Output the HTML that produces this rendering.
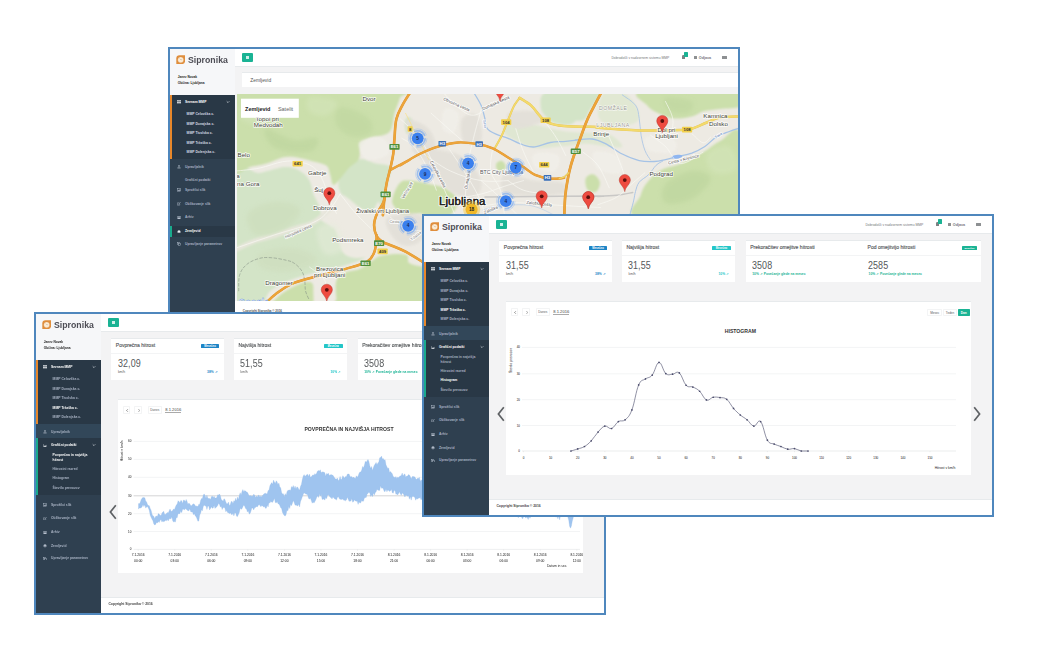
<!DOCTYPE html>
<html><head><meta charset="utf-8"><title>Sipronika</title>
<style>
html,body{margin:0;padding:0}
body{width:1040px;height:666px;background:#fff;position:relative;overflow:hidden;font-family:"Liberation Sans",sans-serif;color:#676a6c}
.fr{position:absolute;width:568px;border:2px solid #4f87bd;background:#f3f3f4;overflow:hidden}
.fr *{position:absolute;box-sizing:border-box;white-space:nowrap}
.fr svg *{position:static}
/* sidebar */
.side{left:0;top:0;width:65.2px;bottom:0;background:#2f4050}
.head{left:0;top:0;width:65.2px;height:45.8px;background:#f6f7f9}
.logo{left:17.9px;top:4.7px;font-size:9.8px;font-weight:bold;color:#4e4e56;transform:scaleX(0.893);transform-origin:0 0}
.usr{left:7.8px;font-size:3.2px;color:#222;font-weight:bold}
.sec{left:0;width:65.2px;background:#293846}
.bar{left:0;width:1.7px}
.mi{left:15px;font-size:3.35px;font-weight:bold;color:#a7b1c2;line-height:4px}
.mi.w{color:#fff}
.si{left:15.6px;font-size:3.4px;font-weight:bold;color:#a7b1c2;line-height:4px}
.si.w{color:#fff}
.ic{left:8.6px;width:3.3px;height:2.7px;background:#95a0b2;border-radius:0.6px}
.ic.w{background:#e6eaf0}
.car{left:56.4px;width:4px;height:4px}
/* top bar */
.top{left:65.2px;top:0;right:0;height:17.7px;background:#fff;border-bottom:0.4px solid #e7eaec}
.btn{left:71.9px;top:4.2px;width:11px;height:8.6px;background:#1ab394;border-radius:1px}
.btn i{left:4.2px;width:2.6px;height:0.45px;background:rgba(255,255,255,.8)}
.tr{font-size:3.38px;color:#75787a;top:7.2px}
.foot{left:65.2px;right:0;bottom:0;height:16px;background:#fff;border-top:0.4px solid #e7eaec}
.foot span{left:7.2px;top:3.8px;font-size:3.4px;font-weight:bold;color:#444}
/* cards */
.card{top:24px;height:42.4px;background:#fff;border-top:0.4px solid #e7eaec}
.card .t{left:4.6px;top:3px;font-size:5.05px;color:#55585a;-webkit-text-stroke:0.14px #55585a}
.card .ln{left:0;right:0;top:13.6px;height:0.4px;background:#f3f4f5}
.card .n{left:6.6px;top:19px;font-size:10.4px;color:#55585a;transform:scaleX(0.86);transform-origin:0 0;letter-spacing:0.1px}
.card .u{left:6.7px;top:31.3px;font-size:3.3px;color:#555}
.card .u.cg{color:#1ab394}
.card .p{top:30.8px;font-size:3.3px;font-weight:bold}
.lb{top:4.5px;width:18.2px;height:4.6px;border-radius:0.6px;font-size:2.7px;color:#fff;font-weight:bold;text-align:center;line-height:6.2px;overflow:hidden}
.blue{background:#1c84c6}.cy{background:#23c6c8}.gr{background:#1ab394}
.cb{color:#1c84c6}.cc{color:#23c6c8}.cg{color:#1ab394}
/* chart panel */
.panel{left:82.4px;top:85.2px;width:464.8px;height:173.5px;background:#fff;border-top:0.6px solid #e7eaec}
.tb{top:7px;height:7.2px;border:0.3px solid #f3f4f5;border-radius:0.8px;background:#fff;font-size:3.1px;color:#5a5d5f;text-align:center;line-height:6.6px}
.ttl{margin-top:0.5px;font-size:5.1px;font-weight:bold;color:#333;text-align:center;letter-spacing:0.02px}
.arrow{font-size:0}
</style></head><body style="filter:blur(0.35px)">
<div class="fr" style="left:168px;top:47px;height:300px">
<div class="side"></div><div class="head"></div>
<svg style="left:5.8px;top:6px;width:9.4px;height:9.4px" viewBox="0 0 94 94"><path d="M36 3H91V58A33 33 0 0 1 58 91H3V36A33 33 0 0 1 36 3Z" fill="#e08e3c"/><circle cx="47" cy="48" r="29" fill="#fdecd4"/><circle cx="47" cy="48" r="30" fill="none" stroke="#c98646" stroke-width="3" stroke-opacity="0.7"/><path d="M40 40L50 50L58 46" stroke="#b8a896" stroke-width="5" fill="none" stroke-linecap="round"/></svg><div class="logo">Sipronika</div>
<div class="usr" style="top:25.80px;">Janez Novak</div>
<div class="usr" style="top:31.70px;">Občina: Ljubljana</div>
<div class="sec" style="top:45.8px;height:64px"></div>
<div class="bar" style="top:45.8px;height:64px;background:#e8872a"></div>
<svg style="left:7.1px;top:51.30px;width:4px;height:3.5px" viewBox="0 0 8 7" fill="#f2f4f8"><rect x="0.4" y="0.2" width="3.1" height="2.9"/><rect x="4.5" y="0.2" width="3.1" height="2.9"/><rect x="0.4" y="3.9" width="3.1" height="2.9"/><rect x="4.5" y="3.9" width="3.1" height="2.9"/></svg>
<div class="mi w" style="top:50.90px;">Seznam MMP</div>
<svg class="car" style="top:50.6px" viewBox="0 0 4 4"><path d="M0.7 1.3L2 2.6L3.3 1.3" fill="none" stroke="#e8ecf2" stroke-width="0.6"/></svg>
<div class="si" style="left:16.60px;top:63.00px;color:#d3d9e3;">MMP Celovška c.</div>
<div class="si" style="left:16.60px;top:72.60px;color:#d3d9e3;">MMP Dunajska c.</div>
<div class="si" style="left:16.60px;top:82.10px;color:#d3d9e3;">MMP Tivolska c.</div>
<div class="si" style="left:16.60px;top:91.70px;color:#d3d9e3;">MMP Tržaška c.</div>
<div class="si" style="left:16.60px;top:101.30px;color:#d3d9e3;">MMP Dolenjska c.</div>
<svg style="left:7.1px;top:116.40px;width:4px;height:3.5px" viewBox="0 0 8 7" fill="#b7c0ce"><rect x="2.6" y="0.3" width="2.8" height="2.6" rx="0.6"/><path d="M4 2.8V5" stroke="#b7c0ce" stroke-width="0.9"/><path d="M0.8 5.9H7.2" stroke="#b7c0ce" stroke-width="1.5"/></svg>
<div class="mi" style="top:116.00px;">Upravljalnik</div>
<div class="mi" style="top:129.00px;">Grafični podatki</div>
<div class="sec" style="top:177px;height:10.6px"></div>
<div class="bar" style="top:177px;height:10.6px;background:#19aa8d"></div>
<svg style="left:7.1px;top:139.30px;width:4px;height:3.5px" viewBox="0 0 8 7" fill="#b7c0ce"><rect x="0.5" y="0.9" width="7" height="5.4" fill="none" stroke="#b7c0ce" stroke-width="0.9"/><path d="M1.3 5.6L3 3.4L4.2 4.5L5.5 2.4L6.8 5.6Z"/></svg>
<div class="mi" style="top:139.00px;">Sprožilci slik</div>
<svg style="left:7.1px;top:153.10px;width:4px;height:3.5px" viewBox="0 0 8 7" fill="#b7c0ce"><path d="M4.6 1.6H0.7V6.4H5.4V3.8" fill="none" stroke="#b7c0ce" stroke-width="0.9"/><path d="M3 4.4L7.2 0.6" stroke="#b7c0ce" stroke-width="1.3"/></svg>
<div class="mi" style="top:152.80px;">Oblikovanje slik</div>
<svg style="left:7.1px;top:166.60px;width:4px;height:3.5px" viewBox="0 0 8 7" fill="#b7c0ce"><rect x="0.4" y="0.8" width="7.2" height="2"/><rect x="0.9" y="3.4" width="6.2" height="3"/></svg>
<div class="mi" style="top:166.30px;">Arhiv</div>
<svg style="left:7.1px;top:180.50px;width:4px;height:3.5px" viewBox="0 0 8 7" fill="#f2f4f8"><circle cx="4" cy="3.5" r="3.1"/><path d="M1.2 4.3Q4 6 6.8 4.3" fill="none" stroke="#2f4050" stroke-width="0.8"/></svg>
<div class="mi w" style="top:180.20px;">Zemljevid</div>
<svg style="left:7.1px;top:193.00px;width:4px;height:3.5px" viewBox="0 0 8 7" fill="#b7c0ce"><rect x="0.6" y="0.5" width="4.2" height="4.2" fill="none" stroke="#b7c0ce" stroke-width="0.9"/><rect x="2.9" y="2.4" width="4.4" height="4.1" fill="#2f4050" stroke="#b7c0ce" stroke-width="0.9"/></svg>
<div class="mi" style="top:192.70px;">Upravljanje parametrov</div>
<div class="top"></div>
<div class="btn"><i style="top:2.9px"></i><i style="top:4.05px"></i><i style="top:5.2px"></i></div>
<div class="tr" style="left:441.40px;top:6.50px;">Dobrodošli v nadzornem sistemu MMP</div>
<div style="left:511.6px;top:6.4px;width:3.2px;height:4px;background:#7e8183;border-radius:1.2px 1.2px 0.3px 0.3px"></div>
<div style="left:513.6px;top:3.4px;width:4.6px;height:4.4px;background:#1ab394;border-radius:0.6px"></div>
<div style="left:524px;top:7.3px;width:2.8px;height:2.6px;background:#8d9092;border-radius:0.3px"></div>
<div class="tr" style="left:528.80px;top:7.00px;color:#74777a;font-weight:bold;font-size:3.7px;">Odjava</div>
<div style="left:552.4px;top:7.2px;width:4.2px;height:3px;background:#8d9092;border-radius:0.3px"></div>
<div style="left:72.4px;top:23.4px;width:500px;height:15px;background:#fff;border-top:0.4px solid #e7eaec"></div>
<div style="left:80.2px;top:29.2px;font-size:4.9px;color:#555">Zemljevid</div>
<div id="map" style="left:66.6px;top:44.8px;width:501.4px;height:207.6px;background:#edeae3;overflow:hidden"><svg style="left:0;top:0;width:501.4px;height:207.6px" viewBox="0 0 501.4 207.6" font-family="Liberation Sans, sans-serif">
<defs><filter id="b1" x="-5%" y="-5%" width="110%" height="110%"><feGaussianBlur stdDeviation="0.9"/></filter><filter id="b2" x="-10%" y="-10%" width="120%" height="120%"><feGaussianBlur stdDeviation="2.2"/></filter></defs>
<rect width="501.4" height="207.6" fill="#edeae3"/>
<g filter="url(#b1)">
<path d="M-8.3 80.8C-2.8 56.2 12.4 80.3 22.5 78.9C32.5 77.5 40.2 73.5 47.5 73.1C54.7 72.8 58.4 74.5 62.9 77.0C67.4 79.4 70.1 82.4 72.5 86.6C74.9 90.7 74.6 95.5 76.3 100.0C78.1 104.5 80.7 107.4 82.1 111.6C83.5 115.7 84.0 120.7 84.0 123.1C84.0 125.5 79.3 123.0 82.1 125.0C84.9 127.1 93.5 133.3 99.4 134.7C105.3 136.0 108.9 133.4 114.8 132.7C120.7 132.0 128.6 129.1 132.1 130.8C135.6 132.5 134.0 137.2 134.0 142.4C134.0 147.5 135.6 154.8 132.1 159.7C128.6 164.5 123.1 166.2 114.8 169.3C106.5 172.4 96.3 174.2 85.9 177.0C75.6 179.7 66.4 181.2 57.1 184.7C47.7 188.1 40.2 191.4 34.0 196.2C27.8 201.0 30.1 208.1 22.5 211.6C14.9 215.0 -2.8 239.0 -8.3 215.4C-13.8 191.9 -13.8 105.4 -8.3 80.8Z" fill="#d3e4c7" />
<path d="M107.1 77.0C110.9 72.5 116.9 66.8 122.5 65.4C128.0 64.0 132.3 67.9 137.9 69.3C143.4 70.7 150.8 70.0 153.2 73.1C155.7 76.2 152.4 81.0 151.3 86.6C150.3 92.1 148.5 97.7 147.5 103.9C146.4 110.1 146.6 120.5 145.6 121.2C144.5 121.9 143.8 108.1 141.7 107.7C139.6 107.4 137.5 117.5 134.0 119.3C130.6 121.0 125.9 119.4 122.5 117.4C119.0 115.3 117.6 110.2 114.8 107.7C112.0 105.3 109.5 107.0 107.1 103.9C104.7 100.8 101.3 95.3 101.3 90.4C101.3 85.6 103.3 81.5 107.1 77.0Z" fill="#d3e4c7" />
<path d="M84.0 103.9C86.4 99.7 96.3 98.3 103.2 100.0C110.2 101.8 116.2 109.0 122.5 113.5C128.7 118.0 134.7 117.8 137.9 125.0C141.0 132.3 141.9 147.0 139.8 153.9C137.7 160.8 132.2 162.5 126.3 163.5C120.4 164.5 111.9 164.2 107.1 159.7C102.2 155.2 102.5 145.1 99.4 138.5C96.3 131.9 92.6 129.4 89.8 123.1C87.0 116.9 81.6 108.0 84.0 103.9Z" fill="#edeae2" />
<path d="M-2.5 156.2C1.3 154.5 11.4 149.2 18.6 146.6C25.9 144.0 30.9 143.7 37.9 141.6C44.8 139.4 50.2 137.0 57.1 134.7C64.0 132.3 69.9 132.0 76.3 128.5C82.7 125.0 89.7 117.8 92.7 115.4" fill="none" stroke="#e7e6db" stroke-width="4.60" stroke-linecap="round" stroke-linejoin="round" />
<path d="M-8.3 -5.7C22.5 -20.2 132.1 -7.5 162.9 -5.7C193.7 -4.0 163.8 -0.6 162.9 3.9C161.9 8.4 159.0 13.7 157.5 19.3C156.0 24.8 156.2 30.8 154.4 34.7C152.6 38.5 151.5 39.1 147.5 40.8C143.5 42.5 136.3 41.9 132.1 44.3C127.9 46.6 125.9 50.1 124.0 53.9C122.1 57.7 123.7 62.0 121.7 65.4C119.7 68.9 115.9 70.0 112.9 73.1C109.8 76.2 107.7 79.6 104.8 82.7C101.8 85.9 98.6 91.2 96.5 90.8C94.4 90.5 94.5 84.3 93.2 80.8C92.0 77.4 92.4 74.0 89.4 71.6C86.4 69.2 81.1 68.7 76.3 67.4C71.5 66.0 67.0 64.7 62.9 63.9C58.7 63.1 56.7 62.7 53.2 62.7C49.8 62.7 47.8 62.7 43.6 63.9C39.5 65.1 35.4 67.8 30.2 69.3C25.0 70.8 21.7 71.4 14.8 72.4C7.9 73.3 -4.1 88.7 -8.3 74.7C-12.4 60.6 -39.1 8.7 -8.3 -5.7Z" fill="#cbdfab" />
<path d="M99.4 186.6C100.8 182.1 102.9 181.0 107.1 178.9C111.2 176.8 117.6 177.1 122.5 175.0C127.3 173.0 129.9 170.2 134.0 167.7C138.2 165.3 139.3 162.8 145.6 161.6C151.8 160.3 163.8 159.4 168.6 160.8C173.5 162.2 169.0 167.1 172.5 169.3C175.9 171.5 180.9 171.7 187.9 173.1C194.8 174.5 206.8 168.7 210.9 177.0C215.1 185.3 230.3 211.7 210.9 219.3C191.6 226.9 123.3 222.0 103.2 219.3C83.2 216.5 100.1 209.8 99.4 203.9C98.7 198.0 98.0 191.1 99.4 186.6Z" fill="#cbdfab" />
<path d="M30.2 219.3C24.6 216.5 34.9 208.7 39.8 203.9C44.6 199.0 51.2 195.2 57.1 192.4C63.0 189.5 69.0 187.4 72.5 188.1C75.9 188.8 76.7 190.6 76.3 196.2C76.0 201.8 78.9 215.1 70.6 219.3C62.2 223.4 35.7 222.0 30.2 219.3Z" fill="#cbdfab" />
<path d="M155.6 103.9C156.5 99.6 159.8 92.0 162.9 88.9C165.9 85.8 167.3 86.4 172.5 86.6C177.7 86.8 184.8 88.5 191.7 90.0C198.6 91.6 205.7 92.2 210.9 95.4C216.1 98.6 220.2 103.1 220.6 107.7C220.9 112.4 218.1 117.6 212.9 121.2C207.7 124.8 196.9 128.1 191.7 127.7C186.5 127.4 188.2 120.3 184.0 119.3C179.9 118.3 173.4 123.3 168.6 122.2C163.9 121.0 159.8 116.0 157.5 112.7C155.1 109.5 154.6 108.2 155.6 103.9Z" fill="#cbdfab" />
<path d="M309.6 -1.9C317.2 -4.6 339.9 -4.6 346.1 -1.9C352.3 0.9 345.9 8.0 344.2 13.5C342.4 19.0 340.6 26.0 336.5 28.9C332.3 31.8 325.6 30.5 321.1 29.9C316.6 29.2 314.6 28.0 311.5 25.0C308.4 22.1 304.1 18.4 303.8 13.5C303.4 8.7 301.9 0.9 309.6 -1.9Z" fill="#d3e4c7" />
<path d="M321.5 -1.9C328.6 -5.6 355.2 -5.0 360.9 -1.9C366.7 1.1 356.1 9.9 353.4 15.0C350.7 20.0 350.0 24.5 345.9 26.2C341.9 27.9 335.3 25.7 330.9 24.4C326.5 23.0 323.2 23.5 321.5 18.7C319.8 14.0 314.4 1.8 321.5 -1.9Z" fill="#d3e4c7" />
<path d="M367.5 -1.9C371.9 -5.6 379.8 -4.3 385.3 -1.9C390.9 0.4 395.6 6.1 398.5 11.2C401.3 16.3 403.7 22.5 401.3 26.2C398.9 29.9 391.2 31.2 385.3 31.9C379.4 32.5 372.8 32.3 368.4 30.0C364.1 27.6 361.1 24.5 360.9 18.7C360.8 13.0 363.1 1.8 367.5 -1.9Z" fill="#e1e8d3" />
<path d="M271.1 27.0C276.6 25.6 287.6 28.9 298.0 30.8C308.4 32.7 317.0 36.2 328.8 37.5C340.6 38.9 360.3 38.7 363.4 38.5C366.5 38.3 344.3 36.2 345.9 36.6C347.5 36.9 365.1 37.4 372.2 40.3C379.3 43.2 385.7 50.3 385.3 52.5C385.0 54.7 376.7 53.0 370.3 52.5C363.9 52.0 357.2 49.8 349.7 49.7C342.2 49.6 338.1 51.2 328.8 52.0C319.5 52.7 307.0 54.9 298.0 53.9C289.0 52.9 284.3 49.0 278.8 46.2C273.2 43.4 268.6 42.0 267.2 38.5C265.9 35.0 265.6 28.4 271.1 27.0Z" fill="#dfe7d2" />
<path d="M406.0 -2.9C389.2 -0.3 407.4 7.3 410.1 11.2C412.8 15.2 416.3 16.7 421.0 19.1C425.7 21.5 429.9 23.7 436.0 24.4C442.1 25.0 449.3 23.8 454.8 22.5C460.3 21.2 461.4 18.6 466.4 17.2C471.5 15.9 476.2 15.9 482.9 15.0C489.6 14.0 499.9 15.2 503.6 12.0C507.3 8.8 521.1 -0.2 503.6 -2.9C486.0 -5.5 422.8 -5.4 406.0 -2.9Z" fill="#cbdfab" />
<path d="M401.9 123.8C383.9 119.8 402.0 108.0 403.7 101.3C405.5 94.6 407.8 91.3 411.6 86.7C415.4 82.1 419.0 78.8 424.8 75.8C430.5 72.7 436.1 72.9 443.5 69.8C451.0 66.7 458.9 62.6 466.0 58.5C473.1 54.5 476.2 50.5 482.9 47.3C489.7 44.0 499.9 26.7 503.6 40.5C507.3 54.3 521.9 108.8 503.6 123.8C485.3 138.8 419.8 127.9 401.9 123.8Z" fill="#cbdfab" />
<path d="M348.7 84.4C349.8 81.6 353.7 79.6 356.2 80.3C358.8 81.0 362.3 85.1 362.8 88.2C363.3 91.3 361.3 96.2 359.1 97.6C356.9 98.9 352.5 98.0 350.6 95.7C348.8 93.3 347.7 87.2 348.7 84.4Z" fill="#cbdfab" />
<path d="M259.6 69.3C260.5 67.8 263.7 66.3 265.3 67.0C267.0 67.7 269.0 71.2 268.8 73.1C268.6 75.1 266.0 77.3 264.4 77.7C262.8 78.2 260.8 77.0 259.9 75.4C259.1 73.9 258.6 70.8 259.6 69.3Z" fill="#cbdfab" />
<path d="M168.8 25.0C169.8 22.6 173.4 22.8 174.6 25.0C175.7 27.3 175.9 35.1 174.9 37.5C174.0 40.0 170.3 40.8 169.2 38.5C168.1 36.3 167.8 27.5 168.8 25.0Z" fill="#d3e4c7" />
</g>
<g filter="url(#b2)" opacity="0.5">
<path d="M28.2 34.7C31.7 33.3 47.7 44.5 57.1 46.2C66.4 47.9 77.4 42.2 80.2 44.3C82.9 46.4 80.1 56.0 72.5 57.7C64.9 59.5 45.8 58.0 37.9 53.9C29.9 49.7 24.8 36.0 28.2 34.7Z" fill="#b9d29a" />
<path d="M103.2 13.5C108.8 12.1 124.6 18.6 130.2 23.1C135.7 27.6 136.8 35.0 134.0 38.5C131.2 42.0 121.0 43.7 114.8 42.4C108.6 41.0 101.5 36.0 99.4 30.8C97.3 25.6 97.7 14.9 103.2 13.5Z" fill="#bcd49c" />
<path d="M10.9 7.7C17.2 7.7 36.5 19.0 37.9 23.1C39.2 27.3 24.9 30.8 18.6 30.8C12.4 30.8 4.6 27.3 3.2 23.1C1.9 19.0 4.7 7.7 10.9 7.7Z" fill="#d6e6bd" />
<path d="M72.5 3.9C77.3 2.2 96.3 4.6 99.4 7.7C102.5 10.9 94.6 19.5 89.8 21.2C84.9 22.9 75.6 20.5 72.5 17.4C69.4 14.2 67.6 5.6 72.5 3.9Z" fill="#d6e6bd" />
<path d="M10.9 119.3C14.4 113.4 28.5 108.4 37.9 107.7C47.2 107.0 61.1 110.6 62.9 115.4C64.6 120.3 55.4 130.2 47.5 134.7C39.5 139.2 25.2 143.2 18.6 140.4C12.1 137.7 7.5 125.2 10.9 119.3Z" fill="#cbdbb8" />
<path d="M22.5 159.7C28.0 155.9 46.7 152.9 57.1 153.9C67.5 154.9 80.2 161.3 80.2 165.4C80.2 169.6 66.8 175.2 57.1 177.0C47.4 178.7 32.6 178.2 26.3 175.0C20.1 171.9 16.9 163.5 22.5 159.7Z" fill="#cddcbb" />
<path d="M80.2 134.7C82.2 129.5 94.6 127.4 99.4 130.8C104.2 134.3 109.2 148.7 107.1 153.9C105.0 159.1 92.7 163.1 87.9 159.7C83.0 156.2 78.1 139.9 80.2 134.7Z" fill="#e6ecdc" />
<path d="M428.5 90.0C433.2 84.3 446.7 77.9 454.8 76.9C462.9 75.9 473.6 79.3 473.6 84.4C473.6 89.5 462.9 100.7 454.8 105.1C446.7 109.5 433.2 111.5 428.5 108.8C423.8 106.1 423.8 95.8 428.5 90.0Z" fill="#b9d29a" />
<path d="M469.8 60.0C472.5 55.3 486.9 49.8 492.3 52.5C497.7 55.2 502.5 70.3 499.8 75.0C497.1 79.8 482.7 81.5 477.3 78.8C471.9 76.1 467.1 64.7 469.8 60.0Z" fill="#d6e6bd" />
<path d="M428.5 3.7C432.6 2.0 450.7 4.8 454.8 7.5C458.8 10.2 455.1 17.0 451.0 18.7C447.0 20.4 436.3 19.5 432.3 16.8C428.2 14.1 424.5 5.4 428.5 3.7Z" fill="#bcd49c" />
</g>
<g filter="url(#b1)" opacity="0.9">
<path d="M174.9 53.9C176.7 50.8 192.5 54.1 201.9 55.8C211.2 57.5 219.2 58.0 226.9 63.5C234.5 69.0 242.4 79.3 244.2 86.6C245.9 93.9 242.4 102.2 236.5 103.9C230.6 105.6 219.4 101.7 211.5 96.2C203.5 90.7 198.8 80.7 192.2 73.1C185.7 65.5 173.2 57.0 174.9 53.9Z" fill="#e3e0d9" />
<path d="M224.9 25.0C227.4 20.2 236.9 17.4 240.3 21.2C243.8 25.0 246.6 41.4 244.2 46.2C241.7 51.0 230.3 51.9 226.9 48.1C223.4 44.3 222.5 29.9 224.9 25.0Z" fill="#e3e0d9" />
<path d="M271.1 19.3C274.6 16.2 291.8 16.0 298.0 17.4C304.2 18.7 309.2 23.9 305.7 27.0C302.2 30.1 285.0 36.0 278.8 34.7C272.6 33.3 267.6 22.4 271.1 19.3Z" fill="#e3e0d9" />
<path d="M267.2 80.8C272.1 78.4 287.6 85.2 298.0 86.6C308.4 88.0 320.1 86.1 324.9 88.5C329.8 90.9 334.6 98.0 324.9 100.0C315.2 102.1 281.5 103.5 271.1 100.0C260.7 96.6 262.4 83.2 267.2 80.8Z" fill="#e3e0d9" />
<path d="M168.6 27.0C170.7 22.8 186.2 28.8 191.7 34.7C197.2 40.5 201.5 55.5 199.4 59.7C197.3 63.8 185.7 63.6 180.2 57.7C174.6 51.9 166.6 31.1 168.6 27.0Z" fill="#e3e0d9" />
<path d="M149.4 125.0C153.2 119.9 177.8 117.4 184.0 121.2C190.2 125.0 187.8 141.0 184.0 146.2C180.2 151.4 169.1 153.9 162.9 150.0C156.6 146.2 145.6 130.2 149.4 125.0Z" fill="#e3e0d9" />
<path d="M207.6 15.4C210.4 12.7 219.4 15.1 221.1 19.3C222.8 23.4 220.0 35.7 217.2 38.5C214.5 41.3 207.4 38.8 205.7 34.7C204.0 30.5 204.9 18.2 207.6 15.4Z" fill="#f1efe9" />
<path d="M298.0 59.7C302.2 57.6 317.6 58.5 321.1 61.6C324.6 64.7 321.4 74.9 317.2 77.0C313.1 79.0 301.5 76.2 298.0 73.1C294.6 70.0 293.9 61.7 298.0 59.7Z" fill="#f1efe9" />
<path d="M357.2 58.1C360.6 55.8 375.0 58.2 379.7 61.9C384.4 65.6 386.8 76.4 383.5 78.8C380.1 81.1 365.7 78.7 360.9 75.0C356.2 71.3 353.8 60.5 357.2 58.1Z" fill="#f1efe9" />
<path d="M409.7 43.1C414.1 41.1 431.3 42.3 436.0 45.0C440.7 47.7 440.4 56.1 436.0 58.1C431.6 60.2 416.3 59.0 411.6 56.3C406.9 53.6 405.3 45.1 409.7 43.1Z" fill="#f1efe9" />
<path d="M122.5 48.1C125.2 44.3 140.4 42.2 145.6 44.3C150.7 46.4 154.1 55.9 151.3 59.7C148.6 63.5 135.4 67.5 130.2 65.4C125.0 63.4 119.7 51.9 122.5 48.1Z" fill="#f1efe9" />
</g>
<path d="M248.0 103.1C257.0 103.0 277.2 102.6 298.0 102.4C318.8 102.1 352.1 102.0 363.4 102.0C374.7 102.0 358.0 102.6 360.9 102.4C363.9 102.3 373.5 102.0 379.7 101.3C386.0 100.6 392.8 99.0 395.7 98.5" fill="none" stroke="#c9c8c6" stroke-width="1.50" stroke-linecap="round" stroke-linejoin="round" />
<path d="M236.5 -1.9C237.9 0.5 242.1 6.7 244.2 11.6C246.2 16.4 246.9 20.9 248.0 25.0C249.1 29.2 248.2 31.9 250.3 34.7C252.4 37.4 255.8 38.7 259.6 40.4C263.3 42.2 266.2 42.4 271.1 44.3C275.9 46.2 281.6 49.5 286.5 51.0C291.3 52.6 293.2 53.4 298.0 52.9C302.9 52.5 307.9 49.5 313.4 48.5C318.9 47.5 322.9 47.9 328.8 47.4C334.7 46.8 344.4 45.7 346.1 45.4C347.8 45.2 336.8 46.0 338.4 45.9C340.1 45.9 349.9 44.3 355.3 45.0C360.7 45.7 363.0 47.0 368.4 49.7C373.9 52.4 379.3 57.0 385.3 60.0C391.4 63.1 396.5 65.2 402.2 66.6C408.0 67.9 412.5 67.7 417.2 67.5C422.0 67.4 424.5 66.5 428.5 65.6C432.6 64.8 435.0 64.0 439.8 62.8C444.5 61.6 449.7 60.9 454.8 59.1C459.8 57.2 463.5 55.4 467.9 52.5C472.3 49.6 474.8 45.8 479.2 43.1C483.6 40.4 487.9 39.2 492.3 37.5C496.7 35.8 501.6 34.4 503.6 33.7" fill="none" stroke="#a6c3e6" stroke-width="1.30" stroke-linecap="round" stroke-linejoin="round" />
<path d="M435.3 62.3C436.1 61.6 438.9 60.8 440.7 60.8C442.5 60.7 445.3 61.2 445.4 61.9C445.5 62.6 443.0 64.0 441.3 64.5C439.6 65.0 437.1 64.9 436.0 64.5C434.9 64.1 434.4 62.9 435.3 62.3Z" fill="#8fb6f0" />
<path d="M385.3 0.9C387.7 2.8 395.4 7.0 398.5 11.2C401.5 15.4 401.2 18.9 402.2 24.4C403.2 29.8 403.1 35.5 404.1 41.2C405.1 47.0 406.2 51.8 407.9 56.3C409.5 60.7 412.5 64.3 413.5 66.0" fill="none" stroke="#a6c3e6" stroke-width="0.80" stroke-linecap="round" stroke-linejoin="round" />
<path d="M392.1 123.8C392.9 120.8 395.4 111.7 396.6 106.9C397.7 102.2 397.5 100.9 398.5 97.6C399.5 94.2 399.9 91.2 402.2 88.2C404.6 85.1 408.6 83.7 411.6 80.7C414.7 77.6 416.6 73.7 419.1 71.3C421.7 68.8 424.5 67.9 425.7 67.1" fill="none" stroke="#a6c3e6" stroke-width="0.90" stroke-linecap="round" stroke-linejoin="round" />
<path d="M246.1 115.8C249.2 115.1 256.1 112.9 263.4 112.0C270.7 111.1 279.6 110.5 286.5 110.8C293.4 111.2 296.3 112.0 301.9 113.9C307.4 115.8 314.5 119.9 317.2 121.2" fill="none" stroke="#a6c3e6" stroke-width="0.50" stroke-linecap="round" stroke-linejoin="round" />
<path d="M1.7 196.8C1.9 194.0 1.2 185.8 2.6 181.1C4.0 176.4 6.1 173.7 9.5 170.7C12.9 167.7 17.3 165.9 21.7 164.6C26.1 163.3 28.9 163.4 33.9 163.7C38.9 164.0 45.2 165.3 49.4 166.3C53.6 167.3 54.3 167.3 57.1 169.2C59.9 171.1 62.9 173.9 64.8 177.0C66.7 180.1 67.0 183.0 67.7 186.6C68.4 190.2 67.8 193.7 68.6 197.2C69.4 200.7 71.7 204.6 72.4 206.2" fill="none" stroke="#879287" stroke-width="0.60" stroke-linecap="round" stroke-linejoin="round" stroke-dasharray="2.6 2.2" stroke-linecap="butt"/>
<path d="M-0.6 77.0C3.6 76.5 14.2 75.7 22.5 74.1C30.8 72.4 38.6 68.9 45.6 67.7C52.5 66.6 55.4 66.8 60.9 67.7C66.5 68.7 71.8 69.7 76.3 73.1C80.8 76.5 83.2 81.0 85.9 86.6C88.7 92.1 89.3 98.0 91.7 103.9C94.1 109.8 98.0 116.5 99.4 119.3" fill="none" stroke="#fbfaf6" stroke-width="0.70" stroke-linecap="round" stroke-linejoin="round" stroke-opacity="0.9"/>
<path d="M-0.6 153.9C6.3 151.5 24.0 145.4 37.9 140.8C51.7 136.2 66.5 133.1 76.3 128.5C86.2 123.9 87.8 120.6 92.7 115.4C97.5 110.3 101.3 102.8 103.2 100.0" fill="none" stroke="#fbfaf6" stroke-width="0.70" stroke-linecap="round" stroke-linejoin="round" stroke-opacity="0.9"/>
<path d="M103.2 100.0C106.0 103.5 113.1 113.0 118.6 119.3C124.2 125.5 131.2 131.9 134.0 134.7" fill="none" stroke="#fbfaf6" stroke-width="0.70" stroke-linecap="round" stroke-linejoin="round" stroke-opacity="0.9"/>
<path d="M163.4 25.0C166.9 28.5 176.7 36.3 182.6 44.3C188.5 52.2 191.6 59.9 196.1 69.3C200.6 78.6 203.8 87.2 207.6 96.2C211.4 105.2 215.5 115.1 217.2 119.3" fill="none" stroke="#fbfaf6" stroke-width="0.70" stroke-linecap="round" stroke-linejoin="round" stroke-opacity="0.9"/>
<path d="M244.2 15.4C242.8 20.6 238.8 34.6 236.5 44.3C234.1 54.0 232.5 59.9 231.1 69.3C229.7 78.6 229.5 87.2 228.8 96.2C228.0 105.2 227.2 115.1 226.9 119.3" fill="none" stroke="#fbfaf6" stroke-width="0.70" stroke-linecap="round" stroke-linejoin="round" stroke-opacity="0.9"/>
<path d="M207.6 0.0C210.1 2.5 215.9 9.7 221.1 13.5C226.3 17.3 230.2 21.5 236.5 21.2C242.7 20.9 249.1 14.7 255.7 11.6C262.3 8.5 269.9 5.3 273.0 3.9" fill="none" stroke="#fbfaf6" stroke-width="0.70" stroke-linecap="round" stroke-linejoin="round" stroke-opacity="0.9"/>
<path d="M248.0 111.6C252.2 111.1 262.1 109.0 271.1 108.7C280.1 108.4 288.0 109.1 298.0 109.7C308.1 110.2 315.1 110.9 326.9 111.6C338.6 112.3 356.8 113.2 363.4 113.5" fill="none" stroke="#fbfaf6" stroke-width="0.70" stroke-linecap="round" stroke-linejoin="round" stroke-opacity="0.9"/>
<path d="M360.9 110.7C364.3 109.3 373.6 106.9 379.7 103.2C385.8 99.5 389.7 94.4 394.7 90.0C399.8 85.7 405.5 80.8 407.9 78.8" fill="none" stroke="#fbfaf6" stroke-width="0.70" stroke-linecap="round" stroke-linejoin="round" stroke-opacity="0.9"/>
<path d="M413.5 41.2C416.2 43.3 423.1 47.4 428.5 52.5C433.9 57.6 436.8 68.4 443.5 69.4C450.3 70.4 462.0 60.2 466.0 58.1" fill="none" stroke="#fbfaf6" stroke-width="0.70" stroke-linecap="round" stroke-linejoin="round" stroke-opacity="0.9"/>
<path d="M255.7 53.9C255.4 58.0 252.4 69.4 253.8 77.0C255.2 84.6 261.0 88.6 263.4 96.2C265.8 103.8 266.6 115.1 267.2 119.3" fill="none" stroke="#fbfaf6" stroke-width="0.70" stroke-linecap="round" stroke-linejoin="round" stroke-opacity="0.9"/>
<path d="M211.5 53.9C214.2 58.0 221.7 68.7 226.9 77.0C232.1 85.3 236.5 92.4 240.3 100.0C244.1 107.7 246.6 115.8 248.0 119.3" fill="none" stroke="#fbfaf6" stroke-width="0.70" stroke-linecap="round" stroke-linejoin="round" stroke-opacity="0.9"/>
<path d="M186.5 59.7C191.3 62.8 203.0 72.1 213.4 77.0C223.8 81.8 233.8 84.9 244.2 86.6C254.6 88.3 266.2 86.6 271.1 86.6" fill="none" stroke="#fbfaf6" stroke-width="0.70" stroke-linecap="round" stroke-linejoin="round" stroke-opacity="0.9"/>
<path d="M271.1 86.6C273.9 88.3 279.6 93.8 286.5 96.2C293.4 98.6 305.4 99.4 309.6 100.0" fill="none" stroke="#fbfaf6" stroke-width="0.70" stroke-linecap="round" stroke-linejoin="round" stroke-opacity="0.9"/>
<path d="M278.8 34.7C280.2 38.8 283.0 49.4 286.5 57.7C289.9 66.0 295.9 76.7 298.0 80.8" fill="none" stroke="#fbfaf6" stroke-width="0.70" stroke-linecap="round" stroke-linejoin="round" stroke-opacity="0.9"/>
<path d="M244.2 86.6C247.6 89.7 257.2 98.0 263.4 103.9C269.6 109.8 276.0 116.5 278.8 119.3" fill="none" stroke="#fbfaf6" stroke-width="0.70" stroke-linecap="round" stroke-linejoin="round" stroke-opacity="0.9"/>
<path d="M221.1 103.9C225.2 103.2 235.9 102.1 244.2 100.0C252.5 98.0 259.6 94.8 267.2 92.4C274.9 89.9 283.0 87.6 286.5 86.6" fill="none" stroke="#fbfaf6" stroke-width="0.70" stroke-linecap="round" stroke-linejoin="round" stroke-opacity="0.9"/>
<path d="M298.0 15.4C301.5 19.9 311.7 32.1 317.2 40.4C322.8 48.7 326.7 57.8 328.8 61.6" fill="none" stroke="#fbfaf6" stroke-width="0.70" stroke-linecap="round" stroke-linejoin="round" stroke-opacity="0.9"/>
<path d="M194.2 19.3C197.3 22.0 205.6 29.5 211.5 34.7C217.4 39.9 224.1 45.7 226.9 48.1" fill="none" stroke="#fbfaf6" stroke-width="0.70" stroke-linecap="round" stroke-linejoin="round" stroke-opacity="0.9"/>
<path d="M345.9 58.1C348.6 60.5 356.2 64.9 360.9 71.3C365.7 77.7 370.2 89.7 372.2 93.8" fill="none" stroke="#fbfaf6" stroke-width="0.70" stroke-linecap="round" stroke-linejoin="round" stroke-opacity="0.9"/>
<path d="M372.2 43.1C374.6 48.9 382.3 65.9 385.3 75.0C388.4 84.2 388.4 90.4 389.1 93.8" fill="none" stroke="#fbfaf6" stroke-width="0.70" stroke-linecap="round" stroke-linejoin="round" stroke-opacity="0.9"/>
<path d="M428.5 7.5C429.9 10.8 435.3 19.5 436.0 26.2C436.7 33.0 432.9 41.6 432.3 45.0" fill="none" stroke="#fbfaf6" stroke-width="0.70" stroke-linecap="round" stroke-linejoin="round" stroke-opacity="0.9"/>
<path d="M454.8 39.4C456.8 41.1 462.7 48.1 466.0 48.8C469.4 49.4 472.2 44.1 473.6 43.1" fill="none" stroke="#fbfaf6" stroke-width="0.70" stroke-linecap="round" stroke-linejoin="round" stroke-opacity="0.9"/>
<path d="M164.8 44.3C167.2 46.0 173.4 48.0 178.2 53.9C183.1 59.8 187.9 69.4 191.7 77.0C195.5 84.6 198.0 92.7 199.4 96.2" fill="none" stroke="#fbfaf6" stroke-width="0.70" stroke-linecap="round" stroke-linejoin="round" stroke-opacity="0.9"/>
<path d="M153.2 123.1C156.0 125.2 163.1 132.2 168.6 134.7C174.2 137.1 181.2 136.2 184.0 136.6" fill="none" stroke="#fbfaf6" stroke-width="0.70" stroke-linecap="round" stroke-linejoin="round" stroke-opacity="0.9"/>
<path d="M72.5 173.1C75.2 175.5 84.7 180.4 87.9 186.6C91.0 192.8 89.4 203.9 89.8 207.7" fill="none" stroke="#fbfaf6" stroke-width="0.70" stroke-linecap="round" stroke-linejoin="round" stroke-opacity="0.9"/>
<path d="M282.6 3.9C281.7 5.3 279.3 7.8 277.2 11.6C275.2 15.4 273.6 19.9 271.5 25.0C269.3 30.2 267.7 35.2 265.3 40.4C262.9 45.6 259.3 51.5 258.0 53.9" fill="none" stroke="#e3c255" stroke-width="2.00" stroke-linecap="round" stroke-linejoin="round" /><path d="M282.6 3.9C281.7 5.3 279.3 7.8 277.2 11.6C275.2 15.4 273.6 19.9 271.5 25.0C269.3 30.2 267.7 35.2 265.3 40.4C262.9 45.6 259.3 51.5 258.0 53.9" fill="none" stroke="#f3da6c" stroke-width="1.50" stroke-linecap="round" stroke-linejoin="round" />
<path d="M282.6 3.9C284.7 5.3 290.6 8.5 294.2 11.6C297.7 14.7 299.4 18.2 302.2 21.2C305.1 24.2 305.5 26.2 309.9 28.1C314.4 30.1 317.2 31.1 326.9 32.0C336.5 32.9 357.3 32.8 363.4 33.1C369.5 33.4 353.9 33.2 360.9 33.7C367.9 34.3 387.4 36.0 402.2 36.4C417.1 36.8 434.1 36.3 443.5 36.0C453.0 35.7 450.1 36.0 454.8 34.7C459.5 33.3 464.7 30.5 469.8 28.5C474.9 26.5 476.9 24.7 482.9 23.6C489.0 22.5 499.9 22.7 503.6 22.5" fill="none" stroke="#e3c255" stroke-width="2.50" stroke-linecap="round" stroke-linejoin="round" /><path d="M282.6 3.9C284.7 5.3 290.6 8.5 294.2 11.6C297.7 14.7 299.4 18.2 302.2 21.2C305.1 24.2 305.5 26.2 309.9 28.1C314.4 30.1 317.2 31.1 326.9 32.0C336.5 32.9 357.3 32.8 363.4 33.1C369.5 33.4 353.9 33.2 360.9 33.7C367.9 34.3 387.4 36.0 402.2 36.4C417.1 36.8 434.1 36.3 443.5 36.0C453.0 35.7 450.1 36.0 454.8 34.7C459.5 33.3 464.7 30.5 469.8 28.5C474.9 26.5 476.9 24.7 482.9 23.6C489.0 22.5 499.9 22.7 503.6 22.5" fill="none" stroke="#f3da6c" stroke-width="2.00" stroke-linecap="round" stroke-linejoin="round" />
<path d="M168.6 19.3C170.0 22.0 173.6 29.1 176.3 34.7C179.1 40.2 181.2 44.5 184.0 50.0C186.8 55.6 190.3 62.7 191.7 65.4" fill="none" stroke="#f6e08e" stroke-width="0.80" stroke-linecap="round" stroke-linejoin="round" />
<path d="M173.4 -1.9C172.0 0.5 167.7 6.7 165.2 11.6C162.6 16.4 160.8 19.2 159.4 25.0C158.0 30.9 158.0 38.0 157.5 44.3C156.9 50.5 157.0 54.5 156.3 59.7C155.6 64.9 154.8 67.9 153.6 73.1C152.5 78.3 150.9 83.0 149.8 88.5C148.7 94.0 148.2 98.0 147.5 103.9C146.8 109.8 146.2 118.1 145.9 121.2" fill="none" stroke="#d9922c" stroke-width="2.60" stroke-linecap="round" stroke-linejoin="round" /><path d="M173.4 -1.9C172.0 0.5 167.7 6.7 165.2 11.6C162.6 16.4 160.8 19.2 159.4 25.0C158.0 30.9 158.0 38.0 157.5 44.3C156.9 50.5 157.0 54.5 156.3 59.7C155.6 64.9 154.8 67.9 153.6 73.1C152.5 78.3 150.9 83.0 149.8 88.5C148.7 94.0 148.2 98.0 147.5 103.9C146.8 109.8 146.2 118.1 145.9 121.2" fill="none" stroke="#eda43a" stroke-width="2.10" stroke-linecap="round" stroke-linejoin="round" />
<path d="M148.6 96.2C148.3 98.3 148.2 103.6 146.7 107.7C145.2 111.9 141.9 115.1 140.2 119.3C138.4 123.4 137.2 126.7 137.1 130.8C137.0 135.0 138.2 139.2 139.8 142.4C141.4 145.5 143.4 146.5 145.9 148.1C148.4 149.7 149.5 149.5 153.6 151.2C157.7 152.9 162.5 154.5 168.6 157.7C174.8 161.0 184.4 167.2 187.9 169.3" fill="none" stroke="#d9922c" stroke-width="2.60" stroke-linecap="round" stroke-linejoin="round" /><path d="M148.6 96.2C148.3 98.3 148.2 103.6 146.7 107.7C145.2 111.9 141.9 115.1 140.2 119.3C138.4 123.4 137.2 126.7 137.1 130.8C137.0 135.0 138.2 139.2 139.8 142.4C141.4 145.5 143.4 146.5 145.9 148.1C148.4 149.7 149.5 149.5 153.6 151.2C157.7 152.9 162.5 154.5 168.6 157.7C174.8 161.0 184.4 167.2 187.9 169.3" fill="none" stroke="#eda43a" stroke-width="2.10" stroke-linecap="round" stroke-linejoin="round" />
<path d="M139.8 141.6C139.4 144.5 139.1 153.1 137.5 157.7C135.8 162.4 134.6 164.6 130.6 167.4C126.5 170.1 122.8 170.7 114.8 173.1C106.8 175.5 96.3 178.0 85.9 180.8C75.6 183.7 65.6 185.4 57.1 188.9C48.6 192.4 44.4 196.0 38.8 200.0C33.3 204.1 28.6 209.5 26.3 211.6" fill="none" stroke="#d9922c" stroke-width="2.50" stroke-linecap="round" stroke-linejoin="round" /><path d="M139.8 141.6C139.4 144.5 139.1 153.1 137.5 157.7C135.8 162.4 134.6 164.6 130.6 167.4C126.5 170.1 122.8 170.7 114.8 173.1C106.8 175.5 96.3 178.0 85.9 180.8C75.6 183.7 65.6 185.4 57.1 188.9C48.6 192.4 44.4 196.0 38.8 200.0C33.3 204.1 28.6 209.5 26.3 211.6" fill="none" stroke="#eda43a" stroke-width="2.00" stroke-linecap="round" stroke-linejoin="round" />
<path d="M154.4 75.4C157.7 73.7 170.9 66.6 172.5 65.8C174.1 65.1 161.6 72.2 163.4 71.2C165.2 70.2 175.7 63.4 182.6 60.0C189.6 56.7 194.9 54.4 201.9 52.4C208.8 50.3 214.2 48.9 221.1 48.5C228.0 48.1 234.1 49.0 240.3 50.0C246.6 51.1 250.2 51.9 255.7 54.3C261.2 56.7 265.6 60.1 271.1 63.5C276.6 66.9 281.6 70.0 286.5 73.1C291.3 76.2 293.2 78.7 298.0 80.8C302.9 82.9 308.1 84.1 313.4 84.7C318.7 85.2 324.8 84.0 327.2 83.9" fill="none" stroke="#d9922c" stroke-width="2.40" stroke-linecap="round" stroke-linejoin="round" /><path d="M154.4 75.4C157.7 73.7 170.9 66.6 172.5 65.8C174.1 65.1 161.6 72.2 163.4 71.2C165.2 70.2 175.7 63.4 182.6 60.0C189.6 56.7 194.9 54.4 201.9 52.4C208.8 50.3 214.2 48.9 221.1 48.5C228.0 48.1 234.1 49.0 240.3 50.0C246.6 51.1 250.2 51.9 255.7 54.3C261.2 56.7 265.6 60.1 271.1 63.5C276.6 66.9 281.6 70.0 286.5 73.1C291.3 76.2 293.2 78.7 298.0 80.8C302.9 82.9 308.1 84.1 313.4 84.7C318.7 85.2 324.8 84.0 327.2 83.9" fill="none" stroke="#eda43a" stroke-width="1.90" stroke-linecap="round" stroke-linejoin="round" />
<path d="M365.1 -2.9C363.7 -0.3 360.3 6.0 357.6 11.2C354.9 16.5 352.4 20.8 350.1 26.2C347.7 31.6 346.4 35.8 344.4 41.2C342.4 46.7 340.7 50.9 338.8 56.3C336.9 61.7 335.3 66.2 333.9 71.3C332.5 76.3 331.9 79.0 330.9 84.4C329.9 89.8 329.0 94.2 328.3 101.3C327.6 108.4 327.4 119.8 327.2 123.8" fill="none" stroke="#d9922c" stroke-width="2.70" stroke-linecap="round" stroke-linejoin="round" /><path d="M365.1 -2.9C363.7 -0.3 360.3 6.0 357.6 11.2C354.9 16.5 352.4 20.8 350.1 26.2C347.7 31.6 346.4 35.8 344.4 41.2C342.4 46.7 340.7 50.9 338.8 56.3C336.9 61.7 335.3 66.2 333.9 71.3C332.5 76.3 331.9 79.0 330.9 84.4C329.9 89.8 329.0 94.2 328.3 101.3C327.6 108.4 327.4 119.8 327.2 123.8" fill="none" stroke="#eda43a" stroke-width="2.20" stroke-linecap="round" stroke-linejoin="round" />
<path d="M322.3 84.4C323.2 84.1 325.5 83.9 327.2 82.9C328.8 81.9 330.8 79.5 331.7 78.8" fill="none" stroke="#e3c255" stroke-width="1.50" stroke-linecap="round" stroke-linejoin="round" /><path d="M322.3 84.4C323.2 84.1 325.5 83.9 327.2 82.9C328.8 81.9 330.8 79.5 331.7 78.8" fill="none" stroke="#f3da6c" stroke-width="1.00" stroke-linecap="round" stroke-linejoin="round" />
<text x="30.2" y="27.2" font-size="6.20" text-anchor="middle" fill="#3f3f35" font-weight="normal" letter-spacing="0.00" stroke="#fff" stroke-width="1.60" stroke-opacity="0.85" paint-order="stroke" stroke-linejoin="round">Topol pri</text>
<text x="31.3" y="33.4" font-size="6.20" text-anchor="middle" fill="#3f3f35" font-weight="normal" letter-spacing="0.00" stroke="#fff" stroke-width="1.60" stroke-opacity="0.85" paint-order="stroke" stroke-linejoin="round">Medvodah</text>
<text x="6.7" y="62.8" font-size="6.20" text-anchor="middle" fill="#3f3f35" font-weight="normal" letter-spacing="0.00" stroke="#fff" stroke-width="1.60" stroke-opacity="0.85" paint-order="stroke" stroke-linejoin="round">Belo</text>
<text x="132.1" y="7.0" font-size="6.20" text-anchor="middle" fill="#3f3f35" font-weight="normal" letter-spacing="0.00" stroke="#fff" stroke-width="1.60" stroke-opacity="0.85" paint-order="stroke" stroke-linejoin="round">Dvor</text>
<text x="80.2" y="81.1" font-size="6.20" text-anchor="middle" fill="#3f3f35" font-weight="normal" letter-spacing="0.00" stroke="#fff" stroke-width="1.60" stroke-opacity="0.85" paint-order="stroke" stroke-linejoin="round">Gabrje</text>
<text x="81.7" y="98.0" font-size="6.20" text-anchor="middle" fill="#3f3f35" font-weight="normal" letter-spacing="0.00" stroke="#fff" stroke-width="1.60" stroke-opacity="0.85" paint-order="stroke" stroke-linejoin="round">Šuj</text>
<text x="11.3" y="92.2" font-size="6.20" text-anchor="middle" fill="#3f3f35" font-weight="normal" letter-spacing="0.00" stroke="#fff" stroke-width="1.60" stroke-opacity="0.85" paint-order="stroke" stroke-linejoin="round">na Gora</text>
<text x="0.9" y="83.9" font-size="6.20" text-anchor="middle" fill="#3f3f35" font-weight="normal" letter-spacing="0.00" stroke="#fff" stroke-width="1.60" stroke-opacity="0.85" paint-order="stroke" stroke-linejoin="round">a</text>
<text x="87.9" y="116.1" font-size="6.20" text-anchor="middle" fill="#3f3f35" font-weight="normal" letter-spacing="0.00" stroke="#fff" stroke-width="1.60" stroke-opacity="0.85" paint-order="stroke" stroke-linejoin="round">Dobrova</text>
<text x="145.6" y="119.0" font-size="5.90" text-anchor="middle" fill="#3f3f35" font-weight="normal" letter-spacing="0.00" stroke="#fff" stroke-width="1.60" stroke-opacity="0.85" paint-order="stroke" stroke-linejoin="round">Živalski vrt Ljubljana</text>
<text x="170.2" y="97.7" font-size="4.20" text-anchor="middle" fill="#666" font-weight="normal" letter-spacing="0.00" stroke="#fff" stroke-width="1.60" stroke-opacity="0.85" paint-order="stroke" stroke-linejoin="round" transform="rotate(-60.0 170.2 96.2)">Večna pot</text>
<text x="110.9" y="148.0" font-size="6.20" text-anchor="middle" fill="#3f3f35" font-weight="normal" letter-spacing="0.00" stroke="#fff" stroke-width="1.60" stroke-opacity="0.85" paint-order="stroke" stroke-linejoin="round">Podsmreka</text>
<text x="92.7" y="177.2" font-size="6.20" text-anchor="middle" fill="#3f3f35" font-weight="normal" letter-spacing="0.00" stroke="#fff" stroke-width="1.60" stroke-opacity="0.85" paint-order="stroke" stroke-linejoin="round">Brezovica</text>
<text x="92.7" y="183.4" font-size="6.20" text-anchor="middle" fill="#3f3f35" font-weight="normal" letter-spacing="0.00" stroke="#fff" stroke-width="1.60" stroke-opacity="0.85" paint-order="stroke" stroke-linejoin="round">pri Ljubljani</text>
<text x="42.1" y="190.7" font-size="6.20" text-anchor="middle" fill="#3f3f35" font-weight="normal" letter-spacing="0.00" stroke="#fff" stroke-width="1.60" stroke-opacity="0.85" paint-order="stroke" stroke-linejoin="round">Dragomer</text>
<text x="61.3" y="138.8" font-size="4.20" text-anchor="middle" fill="#666" font-weight="normal" letter-spacing="0.00" stroke="#fff" stroke-width="1.60" stroke-opacity="0.85" paint-order="stroke" stroke-linejoin="round" transform="rotate(-24.0 61.3 137.4)">Horjulska cesta</text>
<text x="159.0" y="129.3" font-size="3.80" text-anchor="middle" fill="#777" font-weight="normal" letter-spacing="0.00" stroke="#fff" stroke-width="1.60" stroke-opacity="0.85" paint-order="stroke" stroke-linejoin="round">Cesta v</text>
<text x="179.0" y="143.2" font-size="3.60" text-anchor="middle" fill="#777" font-weight="normal" letter-spacing="0.00" stroke="#fff" stroke-width="1.60" stroke-opacity="0.85" paint-order="stroke" stroke-linejoin="round" transform="rotate(-38.0 179.0 142.0)">Tržaška</text>
<text x="219.6" y="11.9" font-size="4.30" text-anchor="middle" fill="#555" font-weight="normal" letter-spacing="0.00" stroke="#fff" stroke-width="1.60" stroke-opacity="0.85" paint-order="stroke" stroke-linejoin="round" transform="rotate(24.0 219.6 10.4)">Obvozna cesta</text>
<text x="258.8" y="10.4" font-size="4.30" text-anchor="middle" fill="#555" font-weight="normal" letter-spacing="0.00" stroke="#fff" stroke-width="1.60" stroke-opacity="0.85" paint-order="stroke" stroke-linejoin="round" transform="rotate(-24.0 258.8 8.9)">Dunajska cesta</text>
<text x="248.0" y="31.3" font-size="3.60" text-anchor="middle" fill="#5b7fb5" font-weight="normal" letter-spacing="0.00" stroke="#fff" stroke-width="1.60" stroke-opacity="0.85" paint-order="stroke" stroke-linejoin="round" transform="rotate(80.0 248.0 30.0)">Sava</text>
<text x="201.1" y="81.6" font-size="4.40" text-anchor="middle" fill="#555" font-weight="normal" letter-spacing="0.00" stroke="#fff" stroke-width="1.60" stroke-opacity="0.85" paint-order="stroke" stroke-linejoin="round" transform="rotate(62.0 201.1 80.0)">Celovška cesta</text>
<text x="230.3" y="87.4" font-size="4.40" text-anchor="middle" fill="#555" font-weight="normal" letter-spacing="0.00" stroke="#fff" stroke-width="1.60" stroke-opacity="0.85" paint-order="stroke" stroke-linejoin="round" transform="rotate(-80.0 230.3 85.8)">Dunajska</text>
<text x="264.6" y="79.9" font-size="5.20" text-anchor="middle" fill="#555" font-weight="normal" letter-spacing="0.00" stroke="#fff" stroke-width="1.60" stroke-opacity="0.85" paint-order="stroke" stroke-linejoin="round">BTC City Ljubljana</text>
<text x="225.3" y="111.3" font-size="11.40" text-anchor="middle" fill="#222" font-weight="normal" letter-spacing="0.10" stroke="#fff" stroke-width="2.40" stroke-opacity="0.85" paint-order="stroke" stroke-linejoin="round">Ljubljana</text>
<text x="225.3" y="111.3" font-size="11.4" text-anchor="middle" fill="#262620" stroke="#262620" stroke-width="0.32" letter-spacing="0.1">Ljubljana</text>
<text x="302.2" y="111.1" font-size="4.20" text-anchor="middle" fill="#555" font-weight="normal" letter-spacing="0.00" stroke="#fff" stroke-width="1.60" stroke-opacity="0.85" paint-order="stroke" stroke-linejoin="round" transform="rotate(6.0 302.2 109.7)">Zaloška cesta</text>
<text x="253.8" y="117.3" font-size="4.20" text-anchor="middle" fill="#555" font-weight="normal" letter-spacing="0.00" stroke="#fff" stroke-width="1.60" stroke-opacity="0.85" paint-order="stroke" stroke-linejoin="round" transform="rotate(-22.0 253.8 115.8)">Zaloška</text>
<text x="376.3" y="16.2" font-size="5.20" text-anchor="middle" fill="#9a9a92" font-weight="normal" letter-spacing="0.50" stroke="#fff" stroke-width="1.00" stroke-opacity="0.85" paint-order="stroke" stroke-linejoin="round">DOMŽALE</text>
<text x="376.0" y="32.7" font-size="5.20" text-anchor="middle" fill="#9a9a92" font-weight="normal" letter-spacing="0.50" stroke="#fff" stroke-width="1.00" stroke-opacity="0.85" paint-order="stroke" stroke-linejoin="round">LJUBLJANA</text>
<text x="364.3" y="42.1" font-size="6.20" text-anchor="middle" fill="#3f3f35" font-weight="normal" letter-spacing="0.00" stroke="#fff" stroke-width="1.60" stroke-opacity="0.85" paint-order="stroke" stroke-linejoin="round">Brinje</text>
<text x="429.4" y="38.5" font-size="6.20" text-anchor="middle" fill="#3f3f35" font-weight="normal" letter-spacing="0.00" stroke="#fff" stroke-width="1.60" stroke-opacity="0.85" paint-order="stroke" stroke-linejoin="round">Dol pri</text>
<text x="429.6" y="44.4" font-size="6.20" text-anchor="middle" fill="#3f3f35" font-weight="normal" letter-spacing="0.00" stroke="#fff" stroke-width="1.60" stroke-opacity="0.85" paint-order="stroke" stroke-linejoin="round">Ljubljani</text>
<text x="478.4" y="23.9" font-size="6.20" text-anchor="middle" fill="#3f3f35" font-weight="normal" letter-spacing="0.00" stroke="#fff" stroke-width="1.60" stroke-opacity="0.85" paint-order="stroke" stroke-linejoin="round">Kamnica</text>
<text x="481.4" y="32.3" font-size="6.20" text-anchor="middle" fill="#3f3f35" font-weight="normal" letter-spacing="0.00" stroke="#fff" stroke-width="1.60" stroke-opacity="0.85" paint-order="stroke" stroke-linejoin="round">Dolsko</text>
<text x="424.2" y="81.9" font-size="6.20" text-anchor="middle" fill="#3f3f35" font-weight="normal" letter-spacing="0.00" stroke="#fff" stroke-width="1.60" stroke-opacity="0.85" paint-order="stroke" stroke-linejoin="round">Podgrad</text>
<text x="446.5" y="66.7" font-size="4.20" text-anchor="middle" fill="#555" font-weight="normal" letter-spacing="0.00" stroke="#fff" stroke-width="1.60" stroke-opacity="0.85" paint-order="stroke" stroke-linejoin="round" transform="rotate(-14.0 446.5 65.3)">Cesta v Kresnice</text>
<text x="481.4" y="42.5" font-size="3.60" text-anchor="middle" fill="#5b7fb5" font-weight="normal" letter-spacing="0.00" stroke="#fff" stroke-width="1.60" stroke-opacity="0.85" paint-order="stroke" stroke-linejoin="round" transform="rotate(-32.0 481.4 41.2)">Sava</text>
<rect x="55.5" y="66.9" width="10.2" height="5.6" rx="0.7" fill="#f2d04a"/><text x="60.6" y="71.2" font-size="4.3" text-anchor="middle" fill="#333" font-weight="bold">641</text>
<rect x="152.4" y="50.1" width="10.2" height="5.6" rx="0.7" fill="#4f8f3c"/><text x="157.5" y="54.5" font-size="4.3" text-anchor="middle" fill="#fff" font-weight="bold">E61</text>
<rect x="143.5" y="97.6" width="10.2" height="5.6" rx="0.7" fill="#4f8f3c"/><text x="148.6" y="102.0" font-size="4.3" text-anchor="middle" fill="#fff" font-weight="bold">E61</text>
<rect x="170.6" y="32.2" width="5.0" height="5.6" rx="0.7" fill="#f2d04a"/><text x="173.1" y="36.6" font-size="4.3" text-anchor="middle" fill="#333" font-weight="bold">8</text>
<rect x="137.0" y="146.3" width="10.2" height="5.6" rx="0.7" fill="#4f8f3c"/><text x="142.1" y="150.6" font-size="4.3" text-anchor="middle" fill="#fff" font-weight="bold">E70</text>
<rect x="140.5" y="154.6" width="10.2" height="5.6" rx="0.7" fill="#f2d04a"/><text x="145.6" y="158.9" font-size="4.3" text-anchor="middle" fill="#333" font-weight="bold">409</text>
<rect x="123.5" y="166.5" width="10.2" height="5.6" rx="0.7" fill="#4f8f3c"/><text x="128.6" y="170.8" font-size="4.3" text-anchor="middle" fill="#fff" font-weight="bold">E61</text>
<rect x="201.5" y="46.9" width="7.6" height="5.6" rx="0.7" fill="#3a6fb8"/><text x="205.3" y="51.2" font-size="4.3" text-anchor="middle" fill="#fff" font-weight="bold">H3</text>
<rect x="238.4" y="47.2" width="7.6" height="5.6" rx="0.7" fill="#3a6fb8"/><text x="242.2" y="51.6" font-size="4.3" text-anchor="middle" fill="#fff" font-weight="bold">H3</text>
<rect x="306.7" y="81.1" width="7.6" height="5.6" rx="0.7" fill="#3a6fb8"/><text x="310.5" y="85.4" font-size="4.3" text-anchor="middle" fill="#fff" font-weight="bold">H3</text>
<rect x="264.1" y="25.3" width="10.2" height="5.6" rx="0.7" fill="#f2d04a"/><text x="269.2" y="29.7" font-size="4.3" text-anchor="middle" fill="#333" font-weight="bold">104</text>
<rect x="303.5" y="23.4" width="10.2" height="5.6" rx="0.7" fill="#f2d04a"/><text x="308.6" y="27.7" font-size="4.3" text-anchor="middle" fill="#333" font-weight="bold">108</text>
<rect x="302.1" y="68.0" width="10.2" height="5.6" rx="0.7" fill="#f2d04a"/><text x="307.2" y="72.4" font-size="4.3" text-anchor="middle" fill="#333" font-weight="bold">644</text>
<rect x="333.7" y="54.4" width="10.2" height="5.6" rx="0.7" fill="#4f8f3c"/><text x="338.8" y="58.7" font-size="4.3" text-anchor="middle" fill="#fff" font-weight="bold">E57</text>
<rect x="445.0" y="32.8" width="10.2" height="5.6" rx="0.7" fill="#f2d04a"/><text x="450.1" y="37.2" font-size="4.3" text-anchor="middle" fill="#333" font-weight="bold">108</text>
<circle cx="234.6" cy="115.4" r="8.6" fill="#f2c435" fill-opacity="0.45"/><circle cx="234.6" cy="115.4" r="6" fill="#f0b828"/>
<text x="234.6" y="117.1" font-size="4.8" font-weight="bold" text-anchor="middle" fill="#222">18</text>
<circle cx="180.7" cy="44.3" r="9.3" fill="none" stroke="#5b9bf5" stroke-width="0.9" stroke-opacity="0.28" stroke-dasharray="16 3.5"/><circle cx="180.7" cy="44.3" r="7.5" fill="none" stroke="#5b9bf5" stroke-width="1.7" stroke-opacity="0.55" stroke-dasharray="13 2.7"/><circle cx="180.7" cy="44.3" r="5.9" fill="#3b80ee"/><text x="180.7" y="46.0" font-size="4.8" font-weight="bold" text-anchor="middle" fill="#1a2b55">5</text>
<circle cx="188.0" cy="79.9" r="9.3" fill="none" stroke="#5b9bf5" stroke-width="0.9" stroke-opacity="0.28" stroke-dasharray="16 3.5"/><circle cx="188.0" cy="79.9" r="7.5" fill="none" stroke="#5b9bf5" stroke-width="1.7" stroke-opacity="0.55" stroke-dasharray="13 2.7"/><circle cx="188.0" cy="79.9" r="5.9" fill="#3b80ee"/><text x="188.0" y="81.6" font-size="4.8" font-weight="bold" text-anchor="middle" fill="#1a2b55">9</text>
<circle cx="231.1" cy="69.3" r="9.3" fill="none" stroke="#5b9bf5" stroke-width="0.9" stroke-opacity="0.28" stroke-dasharray="16 3.5"/><circle cx="231.1" cy="69.3" r="7.5" fill="none" stroke="#5b9bf5" stroke-width="1.7" stroke-opacity="0.55" stroke-dasharray="13 2.7"/><circle cx="231.1" cy="69.3" r="5.9" fill="#3b80ee"/><text x="231.1" y="71.0" font-size="4.8" font-weight="bold" text-anchor="middle" fill="#1a2b55">4</text>
<circle cx="278.8" cy="73.5" r="9.3" fill="none" stroke="#5b9bf5" stroke-width="0.9" stroke-opacity="0.28" stroke-dasharray="16 3.5"/><circle cx="278.8" cy="73.5" r="7.5" fill="none" stroke="#5b9bf5" stroke-width="1.7" stroke-opacity="0.55" stroke-dasharray="13 2.7"/><circle cx="278.8" cy="73.5" r="5.9" fill="#3b80ee"/><text x="278.8" y="75.2" font-size="4.8" font-weight="bold" text-anchor="middle" fill="#1a2b55">7</text>
<circle cx="268.8" cy="107.2" r="9.3" fill="none" stroke="#5b9bf5" stroke-width="0.9" stroke-opacity="0.28" stroke-dasharray="16 3.5"/><circle cx="268.8" cy="107.2" r="7.5" fill="none" stroke="#5b9bf5" stroke-width="1.7" stroke-opacity="0.55" stroke-dasharray="13 2.7"/><circle cx="268.8" cy="107.2" r="5.9" fill="#3b80ee"/><text x="268.8" y="108.9" font-size="4.8" font-weight="bold" text-anchor="middle" fill="#1a2b55">4</text>
<circle cx="171.1" cy="131.8" r="9.3" fill="none" stroke="#5b9bf5" stroke-width="0.9" stroke-opacity="0.28" stroke-dasharray="16 3.5"/><circle cx="171.1" cy="131.8" r="7.5" fill="none" stroke="#5b9bf5" stroke-width="1.7" stroke-opacity="0.55" stroke-dasharray="13 2.7"/><circle cx="171.1" cy="131.8" r="5.9" fill="#3b80ee"/><text x="171.1" y="133.5" font-size="4.8" font-weight="bold" text-anchor="middle" fill="#1a2b55">4</text>
<path d="M92.3 110.8C91.7 105.6 86.7 103.4 86.7 99.2A5.6 5.6 0 1 1 97.9 99.2C97.9 103.4 92.9 105.6 92.3 110.8Z" fill="#ee4b40" stroke="#b3382c" stroke-width="0.45"/><circle cx="92.3" cy="99.2" r="1.9" fill="#5a100c"/>
<path d="M89.8 207.4C89.2 202.2 84.2 200.0 84.2 195.8A5.6 5.6 0 1 1 95.4 195.8C95.4 200.0 90.4 202.2 89.8 207.4Z" fill="#ee4b40" stroke="#b3382c" stroke-width="0.45"/><circle cx="89.8" cy="195.8" r="1.9" fill="#5a100c"/>
<path d="M304.7 113.9C304.1 108.7 299.1 106.5 299.1 102.3A5.6 5.6 0 1 1 310.3 102.3C310.3 106.5 305.3 108.7 304.7 113.9Z" fill="#ee4b40" stroke="#b3382c" stroke-width="0.45"/><circle cx="304.7" cy="102.3" r="1.9" fill="#5a100c"/>
<path d="M351.5 114.7C350.9 109.5 345.9 107.3 345.9 103.1A5.6 5.6 0 1 1 357.1 103.1C357.1 107.3 352.1 109.5 351.5 114.7Z" fill="#ee4b40" stroke="#b3382c" stroke-width="0.45"/><circle cx="351.5" cy="103.1" r="1.9" fill="#5a100c"/>
<path d="M263.0 7.0C262.4 1.8 257.4 -0.4 257.4 -4.6A5.6 5.6 0 1 1 268.6 -4.6C268.6 -0.4 263.6 1.8 263.0 7.0Z" fill="#ee4b40" stroke="#b3382c" stroke-width="0.45"/><circle cx="263.0" cy="-4.6" r="1.9" fill="#5a100c"/>
<path d="M425.3 38.6C424.7 33.4 419.7 31.2 419.7 27.0A5.6 5.6 0 1 1 430.9 27.0C430.9 31.2 425.9 33.4 425.3 38.6Z" fill="#ee4b40" stroke="#b3382c" stroke-width="0.45"/><circle cx="425.3" cy="27.0" r="1.9" fill="#5a100c"/>
<path d="M387.8 97.7C387.2 92.5 382.2 90.3 382.2 86.1A5.6 5.6 0 1 1 393.4 86.1C393.4 90.3 388.4 92.5 387.8 97.7Z" fill="#ee4b40" stroke="#b3382c" stroke-width="0.45"/><circle cx="387.8" cy="86.1" r="1.9" fill="#5a100c"/>
<path d="M351.2 114.8C350.6 109.6 345.6 107.4 345.6 103.2A5.6 5.6 0 1 1 356.8 103.2C356.8 107.4 351.8 109.6 351.2 114.8Z" fill="#ee4b40" stroke="#b3382c" stroke-width="0.45"/><circle cx="351.2" cy="103.2" r="1.9" fill="#5a100c"/>
<rect x="4" y="4.7" width="57.8" height="19.1" fill="#fff"/>
<text x="8.1" y="16.6" font-size="5.5" font-weight="bold" fill="#222">Zemljevid</text>
<text x="40.9" y="16.6" font-size="5.5" fill="#666">Satelit</text>
<text x="1.6" y="210.6" font-size="8.6" font-weight="bold" fill="#fff" stroke="#5f8de0" stroke-width="0.35" letter-spacing="0.2">Google</text>
</svg></div>
<div style="left:65.2px;top:252.4px;width:503px;height:20px;background:#fff"></div>
<div style="left:72.8px;top:260.4px;font-size:3px;font-weight:bold;color:#555">Copyright Sipronika &copy; 2016</div>
</div>
<div class="fr" style="left:34px;top:312px;height:299px">
<div class="side"></div><div class="head"></div>
<svg style="left:5.8px;top:6px;width:9.4px;height:9.4px" viewBox="0 0 94 94"><path d="M36 3H91V58A33 33 0 0 1 58 91H3V36A33 33 0 0 1 36 3Z" fill="#e08e3c"/><circle cx="47" cy="48" r="29" fill="#fdecd4"/><circle cx="47" cy="48" r="30" fill="none" stroke="#c98646" stroke-width="3" stroke-opacity="0.7"/><path d="M40 40L50 50L58 46" stroke="#b8a896" stroke-width="5" fill="none" stroke-linecap="round"/></svg><div class="logo">Sipronika</div>
<div class="usr" style="top:25.80px;">Janez Novak</div>
<div class="usr" style="top:31.70px;">Občina: Ljubljana</div>
<div class="sec" style="top:45.8px;height:64px"></div>
<div class="bar" style="top:45.8px;height:64px;background:#e8872a"></div>
<svg style="left:7.1px;top:51.30px;width:4px;height:3.5px" viewBox="0 0 8 7" fill="#f2f4f8"><rect x="0.4" y="0.2" width="3.1" height="2.9"/><rect x="4.5" y="0.2" width="3.1" height="2.9"/><rect x="0.4" y="3.9" width="3.1" height="2.9"/><rect x="4.5" y="3.9" width="3.1" height="2.9"/></svg>
<div class="mi w" style="top:50.90px;">Seznam MMP</div>
<svg class="car" style="top:50.6px" viewBox="0 0 4 4"><path d="M0.7 1.3L2 2.6L3.3 1.3" fill="none" stroke="#e8ecf2" stroke-width="0.6"/></svg>
<div class="si" style="left:16.60px;top:63.00px;">MMP Celovška c.</div>
<div class="si" style="left:16.60px;top:72.60px;">MMP Dunajska c.</div>
<div class="si" style="left:16.60px;top:82.10px;">MMP Tivolska c.</div>
<div class="si w" style="left:16.60px;top:91.70px;">MMP Tržaška c.</div>
<div class="si" style="left:16.60px;top:101.30px;">MMP Dolenjska c.</div>
<div class="sec" style="top:109.8px;height:14.4px;background:#324759"></div>
<svg style="left:7.1px;top:116.40px;width:4px;height:3.5px" viewBox="0 0 8 7" fill="#b7c0ce"><rect x="2.6" y="0.3" width="2.8" height="2.6" rx="0.6"/><path d="M4 2.8V5" stroke="#b7c0ce" stroke-width="0.9"/><path d="M0.8 5.9H7.2" stroke="#b7c0ce" stroke-width="1.5"/></svg>
<div class="mi" style="top:116.00px;">Upravljalnik</div>
<div class="sec" style="top:124.2px;height:56.8px"></div>
<div class="bar" style="top:124.2px;height:56.8px;background:#19aa8d"></div>
<svg style="left:7.1px;top:129.80px;width:4px;height:3.5px" viewBox="0 0 8 7" fill="#f2f4f8"><path d="M0.6 0.4V6.4H7.6" fill="none" stroke="#f2f4f8" stroke-width="0.9"/><path d="M1.6 5.6L3 3L4.4 4L6.6 1.4V5.6Z"/></svg>
<div class="mi w" style="top:129.40px;">Grafični podatki</div>
<svg class="car" style="top:128.8px" viewBox="0 0 4 4"><path d="M0.7 1.3L2 2.6L3.3 1.3" fill="none" stroke="#e8ecf2" stroke-width="0.6"/></svg>
<div class="si w" style="left:16.60px;top:139.20px;line-height:4.4px;">Povprečna in najvišja<br>hitrost</div>
<div class="si" style="left:16.60px;top:152.80px;line-height:4.4px;">Hitrostni razred</div>
<div class="si" style="left:16.60px;top:162.30px;line-height:4.4px;">Histogram</div>
<div class="si" style="left:16.60px;top:171.80px;line-height:4.4px;">Število prevozov</div>
<svg style="left:7.1px;top:189.10px;width:4px;height:3.5px" viewBox="0 0 8 7" fill="#b7c0ce"><rect x="0.5" y="0.9" width="7" height="5.4" fill="none" stroke="#b7c0ce" stroke-width="0.9"/><path d="M1.3 5.6L3 3.4L4.2 4.5L5.5 2.4L6.8 5.6Z"/></svg>
<div class="mi" style="top:188.80px;">Sprožilci slik</div>
<svg style="left:7.1px;top:202.60px;width:4px;height:3.5px" viewBox="0 0 8 7" fill="#b7c0ce"><path d="M4.6 1.6H0.7V6.4H5.4V3.8" fill="none" stroke="#b7c0ce" stroke-width="0.9"/><path d="M3 4.4L7.2 0.6" stroke="#b7c0ce" stroke-width="1.3"/></svg>
<div class="mi" style="top:202.30px;">Oblikovanje slik</div>
<svg style="left:7.1px;top:216.60px;width:4px;height:3.5px" viewBox="0 0 8 7" fill="#b7c0ce"><rect x="0.4" y="0.8" width="7.2" height="2"/><rect x="0.9" y="3.4" width="6.2" height="3"/></svg>
<div class="mi" style="top:216.30px;">Arhiv</div>
<svg style="left:7.1px;top:230.30px;width:4px;height:3.5px" viewBox="0 0 8 7" fill="#b7c0ce"><circle cx="4" cy="3.5" r="3.1"/><path d="M1.2 4.3Q4 6 6.8 4.3" fill="none" stroke="#2f4050" stroke-width="0.8"/></svg>
<div class="mi" style="top:230.00px;">Zemljevid</div>
<svg style="left:7.1px;top:242.60px;width:4px;height:3.5px" viewBox="0 0 8 7" fill="#b7c0ce"><rect x="0.6" y="0.5" width="4.2" height="4.2" fill="none" stroke="#b7c0ce" stroke-width="0.9"/><rect x="2.9" y="2.4" width="4.4" height="4.1" fill="#2f4050" stroke="#b7c0ce" stroke-width="0.9"/></svg>
<div class="mi" style="top:242.30px;">Upravljanje parametrov</div>
<div class="top"></div>
<div class="btn"><i style="top:2.9px"></i><i style="top:4.05px"></i><i style="top:5.2px"></i></div>
<div class="tr" style="left:441.40px;top:6.50px;">Dobrodošli v nadzornem sistemu MMP</div>
<div style="left:511.6px;top:6.4px;width:3.2px;height:4px;background:#7e8183;border-radius:1.2px 1.2px 0.3px 0.3px"></div>
<div style="left:513.6px;top:3.4px;width:4.6px;height:4.4px;background:#1ab394;border-radius:0.6px"></div>
<div style="left:524px;top:7.3px;width:2.8px;height:2.6px;background:#8d9092;border-radius:0.3px"></div>
<div class="tr" style="left:528.80px;top:7.00px;color:#74777a;font-weight:bold;font-size:3.7px;">Odjava</div>
<div style="left:552.4px;top:7.2px;width:4.2px;height:3px;background:#8d9092;border-radius:0.3px"></div>
<div class="card" style="left:75.20px;width:112.60px"><div class="t">Povprečna hitrost</div><div class="ln"></div><div class="n">32,09</div><div class="u " style="">km/h</div><div class="p cb" style="right:6.2px">38% &#8599;</div><div class="lb blue" style="left:89.80px;">Mesečno</div></div>
<div class="card" style="left:197.80px;width:113.40px"><div class="t">Najvišja hitrost</div><div class="ln"></div><div class="n">51,55</div><div class="u " style="">km/h</div><div class="p cc" style="right:6.2px">10% &#8599;</div><div class="lb cy" style="left:90.60px;">Mesečno</div></div>
<div class="card" style="left:321.60px;width:235.40px"><div class="t">Prekoračitev omejitve hitrosti</div><div class="ln"></div><div class="n">3508</div><div class="u cg" style="font-weight:bold;">10% &#8599; Povečanje glede na mesec</div><div class="lb gr" style="left:216.60px;width:14.5px;font-size:2.3px;line-height:5.2px;">Mesečno</div></div>
<div class="card" style="left:438px;width:100px;background:none;border:none"><div class="t" style="left:5.6px;top:4px">Pod omejitvijo hitrosti</div><div class="n" style="left:6.4px;top:20px">2585</div><div class="u cg" style="left:6.6px;top:32.3px;font-weight:bold">10% &#8599; Povečanje glede na mesec</div></div>
<div class="panel"><div class="tb" style="top:6.3px;left:4.5px;width:7.4px"><svg style="left:2.5px;top:2px;width:2.4px;height:3px" viewBox="0 0 2.4 3"><path d="M1.8 0.3L0.6 1.5L1.8 2.7" fill="none" stroke="#444" stroke-width="0.6"/></svg></div><div class="tb" style="top:6.3px;left:16px;width:7.4px"><svg style="left:2.5px;top:2px;width:2.4px;height:3px" viewBox="0 0 2.4 3"><path d="M0.6 0.3L1.8 1.5L0.6 2.7" fill="none" stroke="#444" stroke-width="0.6"/></svg></div><div class="tb" style="top:6.3px;left:29.4px;width:14px">Danes</div><div style="left:46.9px;top:7.4px;font-size:4.1px;color:#444;border-bottom:0.25px solid #aaa;line-height:4.9px">8.1.2016</div></div>
<svg style="left:0;top:0;width:568px;height:299px" viewBox="0 0 568 299"><path d="M97.6 127.40H544" stroke="#dddfe1" stroke-width="0.35"/><text x="95.40" y="128.40" font-size="3.00" text-anchor="end" fill="#111" font-family="Liberation Sans, sans-serif" >60</text><path d="M97.6 145.40H544" stroke="#dddfe1" stroke-width="0.35"/><text x="95.40" y="146.40" font-size="3.00" text-anchor="end" fill="#111" font-family="Liberation Sans, sans-serif" >50</text><path d="M97.6 163.30H544" stroke="#dddfe1" stroke-width="0.35"/><text x="95.40" y="164.30" font-size="3.00" text-anchor="end" fill="#111" font-family="Liberation Sans, sans-serif" >40</text><path d="M97.6 181.80H544" stroke="#a9abad" stroke-width="0.50"/><text x="95.40" y="182.80" font-size="3.00" text-anchor="end" fill="#111" font-family="Liberation Sans, sans-serif" >30</text><path d="M97.6 199.70H544" stroke="#dddfe1" stroke-width="0.35"/><text x="95.40" y="200.70" font-size="3.00" text-anchor="end" fill="#111" font-family="Liberation Sans, sans-serif" >20</text><path d="M97.6 217.50H544" stroke="#dddfe1" stroke-width="0.35"/><text x="95.40" y="218.50" font-size="3.00" text-anchor="end" fill="#111" font-family="Liberation Sans, sans-serif" >10</text><path d="M97.6 235.40H544" stroke="#cfd2d4" stroke-width="0.35"/><text x="95.40" y="236.40" font-size="3.00" text-anchor="end" fill="#111" font-family="Liberation Sans, sans-serif" >0</text><path d="M102.20 235.4V236.8" stroke="#cfd2d4" stroke-width="0.3"/><text x="102.20" y="242.40" font-size="3.30" text-anchor="middle" fill="#111" font-family="Liberation Sans, sans-serif" >7.1.2016</text><text x="102.20" y="247.80" font-size="3.30" text-anchor="middle" fill="#111" font-family="Liberation Sans, sans-serif" >00:00</text><path d="M138.75 235.4V236.8" stroke="#cfd2d4" stroke-width="0.3"/><text x="138.75" y="242.40" font-size="3.30" text-anchor="middle" fill="#111" font-family="Liberation Sans, sans-serif" >7.1.2016</text><text x="138.75" y="247.80" font-size="3.30" text-anchor="middle" fill="#111" font-family="Liberation Sans, sans-serif" >03:00</text><path d="M175.30 235.4V236.8" stroke="#cfd2d4" stroke-width="0.3"/><text x="175.30" y="242.40" font-size="3.30" text-anchor="middle" fill="#111" font-family="Liberation Sans, sans-serif" >7.1.2016</text><text x="175.30" y="247.80" font-size="3.30" text-anchor="middle" fill="#111" font-family="Liberation Sans, sans-serif" >06:00</text><path d="M211.85 235.4V236.8" stroke="#cfd2d4" stroke-width="0.3"/><text x="211.85" y="242.40" font-size="3.30" text-anchor="middle" fill="#111" font-family="Liberation Sans, sans-serif" >7.1.2016</text><text x="211.85" y="247.80" font-size="3.30" text-anchor="middle" fill="#111" font-family="Liberation Sans, sans-serif" >09:00</text><path d="M248.40 235.4V236.8" stroke="#cfd2d4" stroke-width="0.3"/><text x="248.40" y="242.40" font-size="3.30" text-anchor="middle" fill="#111" font-family="Liberation Sans, sans-serif" >7.1.2016</text><text x="248.40" y="247.80" font-size="3.30" text-anchor="middle" fill="#111" font-family="Liberation Sans, sans-serif" >12:00</text><path d="M284.95 235.4V236.8" stroke="#cfd2d4" stroke-width="0.3"/><text x="284.95" y="242.40" font-size="3.30" text-anchor="middle" fill="#111" font-family="Liberation Sans, sans-serif" >7.1.2016</text><text x="284.95" y="247.80" font-size="3.30" text-anchor="middle" fill="#111" font-family="Liberation Sans, sans-serif" >15:00</text><path d="M321.50 235.4V236.8" stroke="#cfd2d4" stroke-width="0.3"/><text x="321.50" y="242.40" font-size="3.30" text-anchor="middle" fill="#111" font-family="Liberation Sans, sans-serif" >7.1.2016</text><text x="321.50" y="247.80" font-size="3.30" text-anchor="middle" fill="#111" font-family="Liberation Sans, sans-serif" >18:00</text><path d="M358.05 235.4V236.8" stroke="#cfd2d4" stroke-width="0.3"/><text x="358.05" y="242.40" font-size="3.30" text-anchor="middle" fill="#111" font-family="Liberation Sans, sans-serif" >8.1.2016</text><text x="358.05" y="247.80" font-size="3.30" text-anchor="middle" fill="#111" font-family="Liberation Sans, sans-serif" >21:00</text><path d="M394.60 235.4V236.8" stroke="#cfd2d4" stroke-width="0.3"/><text x="394.60" y="242.40" font-size="3.30" text-anchor="middle" fill="#111" font-family="Liberation Sans, sans-serif" >8.1.2016</text><text x="394.60" y="247.80" font-size="3.30" text-anchor="middle" fill="#111" font-family="Liberation Sans, sans-serif" >00:00</text><path d="M431.15 235.4V236.8" stroke="#cfd2d4" stroke-width="0.3"/><text x="431.15" y="242.40" font-size="3.30" text-anchor="middle" fill="#111" font-family="Liberation Sans, sans-serif" >8.1.2016</text><text x="431.15" y="247.80" font-size="3.30" text-anchor="middle" fill="#111" font-family="Liberation Sans, sans-serif" >03:00</text><path d="M467.70 235.4V236.8" stroke="#cfd2d4" stroke-width="0.3"/><text x="467.70" y="242.40" font-size="3.30" text-anchor="middle" fill="#111" font-family="Liberation Sans, sans-serif" >8.1.2016</text><text x="467.70" y="247.80" font-size="3.30" text-anchor="middle" fill="#111" font-family="Liberation Sans, sans-serif" >06:00</text><path d="M504.25 235.4V236.8" stroke="#cfd2d4" stroke-width="0.3"/><text x="504.25" y="242.40" font-size="3.30" text-anchor="middle" fill="#111" font-family="Liberation Sans, sans-serif" >8.1.2016</text><text x="504.25" y="247.80" font-size="3.30" text-anchor="middle" fill="#111" font-family="Liberation Sans, sans-serif" >09:00</text><path d="M540.80 235.4V236.8" stroke="#cfd2d4" stroke-width="0.3"/><text x="540.80" y="242.40" font-size="3.30" text-anchor="middle" fill="#111" font-family="Liberation Sans, sans-serif" >8.1.2016</text><text x="540.80" y="247.80" font-size="3.30" text-anchor="middle" fill="#111" font-family="Liberation Sans, sans-serif" >12:00</text><text x="87.20" y="137.00" font-size="3.40" text-anchor="middle" fill="#222" font-family="Liberation Sans, sans-serif" transform="rotate(-90 87.2 137)">Hitrost v km/h</text><text x="520.60" y="253.20" font-size="3.40" text-anchor="middle" fill="#222" font-family="Liberation Sans, sans-serif" >Datum in ura</text><path d="M102.5 189.6L103.4 189.8L104.3 188.3L105.2 185.5L106.1 184.3L107.0 183.3L107.9 183.7L108.8 183.7L109.7 186.9L110.6 188.0L111.5 190.5L112.4 191.5L113.3 191.7L114.2 194.4L115.1 196.2L116.0 200.0L116.9 201.9L117.8 202.2L118.7 204.8L119.6 202.4L120.5 202.1L121.4 202.5L122.3 199.5L123.2 200.3L124.1 200.9L125.0 201.8L125.9 199.3L126.8 198.0L127.7 197.3L128.6 200.3L129.5 200.6L130.4 199.4L131.3 198.4L132.2 199.0L133.1 197.1L134.0 195.0L134.9 196.8L135.8 197.6L136.7 196.2L137.6 195.0L138.5 195.5L139.4 192.9L140.3 191.1L141.2 190.1L142.1 186.7L143.0 187.6L143.9 188.8L144.8 186.4L145.7 186.8L146.6 189.4L147.5 186.0L148.4 186.2L149.3 187.8L150.2 185.4L151.1 187.5L152.0 190.4L152.9 189.0L153.8 190.1L154.7 191.4L155.6 191.7L156.5 190.4L157.4 189.8L158.3 190.2L159.2 191.5L160.1 192.6L161.0 191.8L161.9 192.8L162.8 190.2L163.7 190.4L164.6 186.5L165.5 184.6L166.4 184.4L167.3 181.0L168.2 179.9L169.1 181.5L170.0 184.2L170.9 181.2L171.8 184.0L172.7 184.6L173.6 184.4L174.5 185.6L175.4 182.7L176.3 182.1L177.2 183.4L178.1 182.3L179.0 184.1L179.9 184.0L180.8 183.6L181.7 180.8L182.6 181.1L183.5 180.0L184.4 181.8L185.3 185.6L186.2 186.3L187.1 187.2L188.0 184.7L188.9 185.4L189.8 188.0L190.7 189.7L191.6 189.7L192.5 188.0L193.4 191.8L194.3 190.5L195.2 187.4L196.1 187.5L197.0 189.7L197.9 186.6L198.8 187.4L199.7 184.2L200.6 187.0L201.5 183.1L202.4 185.5L203.3 181.2L204.2 178.7L205.1 180.9L206.0 177.5L206.9 175.6L207.8 178.1L208.7 176.4L209.6 177.1L210.5 178.0L211.4 178.3L212.3 180.1L213.2 181.9L214.1 181.4L215.0 181.9L215.9 182.2L216.8 181.9L217.7 180.2L218.6 181.1L219.5 183.6L220.4 182.0L221.3 183.2L222.2 181.2L223.1 181.4L224.0 183.2L224.9 181.8L225.8 182.9L226.7 181.2L227.6 180.3L228.5 179.6L229.4 179.2L230.3 179.7L231.2 179.7L232.1 176.5L233.0 176.3L233.9 171.7L234.8 170.1L235.7 168.6L236.6 170.3L237.5 166.1L238.4 168.1L239.3 169.4L240.2 166.8L241.1 167.9L242.0 170.8L242.9 169.1L243.8 172.9L244.7 173.8L245.6 178.4L246.5 179.9L247.4 179.8L248.3 183.1L249.2 179.6L250.1 181.7L251.0 177.7L251.9 176.3L252.8 176.3L253.7 175.9L254.6 176.6L255.5 172.6L256.4 173.4L257.3 171.5L258.2 174.5L259.1 172.1L260.0 174.9L260.9 172.9L261.8 173.2L262.7 175.2L263.6 176.0L264.5 172.3L265.4 170.4L266.3 165.6L267.2 162.3L268.1 160.6L269.0 162.6L269.9 161.4L270.8 160.7L271.7 160.3L272.6 162.4L273.5 160.1L274.4 163.3L275.3 162.8L276.2 161.4L277.1 160.8L278.0 161.6L278.9 159.6L279.8 160.8L280.7 159.0L281.6 157.0L282.5 156.6L283.4 157.0L284.3 155.8L285.2 158.8L286.1 157.8L287.0 158.2L287.9 158.0L288.8 158.8L289.7 162.3L290.6 159.5L291.5 160.1L292.4 159.2L293.3 161.6L294.2 160.9L295.1 160.4L296.0 161.1L296.9 161.2L297.8 162.6L298.7 164.1L299.6 165.1L300.5 165.2L301.4 164.0L302.3 166.8L303.2 165.7L304.1 162.4L305.0 165.8L305.9 164.7L306.8 161.7L307.7 163.0L308.6 163.9L309.5 162.6L310.4 162.7L311.3 160.3L312.2 160.0L313.1 160.1L314.0 162.3L314.9 162.9L315.8 162.5L316.7 164.1L317.6 163.0L318.5 164.0L319.4 164.6L320.3 161.7L321.2 163.2L322.1 161.9L323.0 159.4L323.9 158.0L324.8 157.9L325.7 156.0L326.6 152.4L327.5 153.7L328.4 151.2L329.3 147.3L330.2 148.3L331.1 146.7L332.0 145.4L332.9 147.5L333.8 151.7L334.7 154.3L335.6 152.4L336.5 156.4L337.4 153.6L338.3 151.2L339.2 150.0L340.1 148.4L341.0 150.7L341.9 148.9L342.8 147.9L343.7 143.8L344.6 143.6L345.5 142.1L346.4 145.0L347.3 144.5L348.2 146.2L349.1 145.7L350.0 150.7L350.9 152.8L351.8 154.5L352.7 153.9L353.6 158.5L354.5 157.4L355.4 158.8L356.3 159.8L357.2 162.4L358.1 163.0L359.0 163.7L359.9 162.6L360.8 164.4L361.7 162.9L362.6 163.8L363.5 162.4L364.4 162.0L365.3 161.6L366.2 159.1L367.1 162.1L368.0 160.4L368.9 159.9L369.8 163.2L370.7 162.1L371.6 162.0L372.5 160.6L373.4 161.0L374.3 162.6L375.2 164.7L376.1 163.0L377.0 162.1L377.9 163.0L378.8 162.8L379.7 164.5L380.6 165.6L381.5 164.3L382.4 164.4L383.3 163.3L384.2 167.6L385.1 165.8L386.0 166.8L386.9 163.7L387.8 163.8L388.7 165.7L389.6 164.8L390.5 160.6L391.4 163.9L392.3 162.0L393.2 160.7L394.1 162.1L395.0 162.2L395.9 157.9L396.8 159.2L397.7 160.5L398.6 158.7L399.5 157.4L400.4 155.0L401.3 155.4L402.2 156.7L403.1 153.9L404.0 155.6L404.9 153.1L405.8 154.8L406.7 154.0L407.6 154.7L408.5 153.2L409.4 155.9L410.3 155.4L411.2 152.4L412.1 155.4L413.0 152.4L413.9 153.0L414.8 152.5L415.7 153.4L416.6 151.3L417.5 151.6L418.4 152.9L419.3 153.3L420.2 151.8L421.1 153.7L422.0 152.8L422.9 150.0L423.8 150.1L424.7 150.9L425.6 149.5L426.5 151.2L427.4 148.8L428.3 148.9L429.2 148.4L430.1 147.9L431.0 151.4L431.9 150.5L432.8 151.1L433.7 147.7L434.6 150.2L435.5 150.1L436.4 149.1L437.3 148.4L438.2 149.1L439.1 152.4L440.0 152.6L440.9 150.2L441.8 152.5L442.7 149.3L443.6 151.0L444.5 150.4L445.4 153.8L446.3 151.9L447.2 153.7L448.1 150.7L449.0 154.8L449.9 154.3L450.8 152.8L451.7 155.7L452.6 152.9L453.5 153.4L454.4 152.2L455.3 156.5L456.2 156.9L457.1 154.0L458.0 157.4L458.9 155.1L459.8 155.6L460.7 158.0L461.6 157.7L462.5 158.0L463.4 157.3L464.3 156.3L465.2 158.6L466.1 156.2L467.0 156.7L467.9 156.0L468.8 157.5L469.7 160.2L470.6 157.8L471.5 157.3L472.4 160.2L473.3 158.4L474.2 160.3L475.1 161.1L476.0 161.0L476.9 162.0L477.8 161.1L478.7 162.1L479.6 160.2L480.5 160.0L481.4 162.1L482.3 161.6L483.2 162.3L484.1 163.9L485.0 164.9L485.9 162.9L486.8 164.8L487.7 161.5L488.6 162.1L489.5 166.1L490.4 166.2L491.3 166.1L492.2 163.7L493.1 166.9L494.0 164.9L494.9 162.8L495.8 162.0L496.7 162.1L497.6 163.4L498.5 160.1L499.4 162.6L500.3 160.5L501.2 162.2L502.1 158.6L503.0 159.6L503.9 160.2L504.8 157.6L505.7 158.3L506.6 157.4L507.5 156.9L508.4 156.7L509.3 158.7L510.2 156.9L511.1 158.9L512.0 156.0L512.9 158.3L513.8 158.6L514.7 159.2L515.6 157.6L516.5 160.7L517.4 158.6L518.3 160.3L519.2 159.6L520.1 161.7L521.0 160.2L521.9 163.7L522.8 161.4L523.7 164.9L524.6 162.6L525.5 164.3L526.4 163.9L527.3 163.3L528.2 162.8L529.1 160.9L530.0 162.5L530.9 162.5L531.8 166.7L532.7 167.8L533.6 173.4L534.5 173.2L535.4 176.6L536.3 172.9L537.2 167.8L538.1 163.8L539.0 158.9L539.9 158.4L540.8 158.2L541.7 156.0L542.6 157.8L543.5 158.7L544.4 157.0L544.4 188.9L543.5 192.0L542.6 190.1L541.7 192.2L540.8 191.9L539.9 193.3L539.0 193.6L538.1 197.6L537.2 203.9L536.3 207.1L535.4 211.9L534.5 214.2L533.6 212.2L532.7 206.0L531.8 203.1L530.9 199.8L530.0 195.7L529.1 199.5L528.2 197.8L527.3 198.5L526.4 201.5L525.5 201.4L524.6 200.9L523.7 205.9L522.8 201.8L521.9 204.8L521.0 202.0L520.1 203.3L519.2 199.7L518.3 200.0L517.4 199.9L516.5 200.5L515.6 198.2L514.7 195.8L513.8 198.3L512.9 197.3L512.0 197.0L511.1 193.3L510.2 192.5L509.3 195.4L508.4 193.1L507.5 194.4L506.6 196.8L505.7 194.5L504.8 196.9L503.9 194.9L503.0 197.6L502.1 196.2L501.2 198.9L500.3 198.0L499.4 198.5L498.5 199.8L497.6 199.9L496.7 202.3L495.8 201.2L494.9 202.6L494.0 204.3L493.1 202.7L492.2 205.5L491.3 203.8L490.4 203.3L489.5 203.9L488.6 202.0L487.7 202.2L486.8 204.7L485.9 204.1L485.0 200.7L484.1 202.9L483.2 200.8L482.3 203.9L481.4 200.7L480.5 202.9L479.6 199.9L478.7 199.5L477.8 200.0L476.9 199.4L476.0 198.4L475.1 201.4L474.2 200.4L473.3 199.0L472.4 198.9L471.5 198.9L470.6 196.9L469.7 200.6L468.8 200.3L467.9 198.2L467.0 195.8L466.1 198.6L465.2 195.4L464.3 196.5L463.4 196.0L462.5 197.6L461.6 197.1L460.7 194.3L459.8 195.3L458.9 193.8L458.0 196.6L457.1 194.1L456.2 191.8L455.3 194.1L454.4 194.3L453.5 191.8L452.6 193.4L451.7 192.6L450.8 190.7L449.9 193.1L449.0 189.9L448.1 188.7L447.2 188.2L446.3 191.3L445.4 187.5L444.5 188.6L443.6 190.7L442.7 188.3L441.8 187.8L440.9 189.2L440.0 186.1L439.1 185.4L438.2 186.0L437.3 184.1L436.4 185.2L435.5 185.0L434.6 183.2L433.7 187.0L432.8 184.5L431.9 187.5L431.0 187.2L430.1 185.2L429.2 183.8L428.3 188.0L427.4 185.6L426.5 188.2L425.6 186.0L424.7 185.2L423.8 188.7L422.9 188.0L422.0 185.8L421.1 186.3L420.2 186.0L419.3 188.5L418.4 186.3L417.5 187.4L416.6 185.9L415.7 189.9L414.8 187.1L413.9 189.1L413.0 186.4L412.1 189.6L411.2 187.7L410.3 188.8L409.4 189.7L408.5 189.1L407.6 187.3L406.7 188.3L405.8 190.1L404.9 188.0L404.0 190.9L403.1 188.7L402.2 188.7L401.3 191.2L400.4 190.4L399.5 189.1L398.6 189.8L397.7 189.4L396.8 189.0L395.9 186.5L395.0 186.7L394.1 189.1L393.2 189.2L392.3 184.9L391.4 186.8L390.5 187.6L389.6 184.4L388.7 187.8L387.8 185.8L386.9 184.7L386.0 184.4L385.1 186.0L384.2 183.6L383.3 184.1L382.4 184.3L381.5 185.0L380.6 184.4L379.7 186.3L378.8 183.4L377.9 182.6L377.0 182.4L376.1 182.5L375.2 186.2L374.3 182.5L373.4 185.2L372.5 181.6L371.6 182.3L370.7 181.6L369.8 181.1L368.9 183.0L368.0 180.9L367.1 179.7L366.2 179.0L365.3 181.2L364.4 180.0L363.5 177.8L362.6 179.6L361.7 180.9L360.8 180.0L359.9 180.3L359.0 176.5L358.1 176.4L357.2 179.2L356.3 178.7L355.4 175.2L354.5 176.8L353.6 177.4L352.7 176.5L351.8 176.0L350.9 177.8L350.0 175.1L349.1 177.5L348.2 177.4L347.3 174.7L346.4 174.0L345.5 174.3L344.6 171.8L343.7 176.4L342.8 176.3L341.9 176.2L341.0 175.3L340.1 177.8L339.2 178.8L338.3 181.1L337.4 178.9L336.5 182.7L335.6 180.7L334.7 182.5L333.8 179.0L332.9 178.3L332.0 179.5L331.1 180.0L330.2 183.5L329.3 183.5L328.4 184.1L327.5 187.2L326.6 187.2L325.7 186.4L324.8 188.8L323.9 189.1L323.0 187.7L322.1 190.4L321.2 187.0L320.3 187.2L319.4 186.9L318.5 185.8L317.6 187.6L316.7 188.2L315.8 184.6L314.9 187.3L314.0 186.8L313.1 187.4L312.2 185.0L311.3 183.3L310.4 186.0L309.5 186.8L308.6 186.3L307.7 186.2L306.8 184.7L305.9 185.8L305.0 184.9L304.1 185.6L303.2 184.6L302.3 182.5L301.4 183.5L300.5 186.1L299.6 185.3L298.7 184.9L297.8 183.8L296.9 183.0L296.0 184.9L295.1 183.5L294.2 183.3L293.3 182.1L292.4 180.7L291.5 181.3L290.6 184.7L289.7 183.6L288.8 186.2L287.9 184.7L287.0 185.5L286.1 185.3L285.2 180.5L284.3 182.2L283.4 180.1L282.5 183.5L281.6 181.8L280.7 183.6L279.8 185.8L278.9 187.5L278.0 189.1L277.1 187.9L276.2 189.2L275.3 186.6L274.4 184.2L273.5 184.9L272.6 184.4L271.7 181.1L270.8 180.2L269.9 180.0L269.0 179.6L268.1 178.8L267.2 180.6L266.3 182.8L265.4 185.6L264.5 187.5L263.6 193.0L262.7 190.0L261.8 192.0L260.9 191.6L260.0 191.0L259.1 191.2L258.2 188.6L257.3 186.6L256.4 189.3L255.5 191.7L254.6 190.3L253.7 194.6L252.8 192.6L251.9 196.9L251.0 196.1L250.1 200.6L249.2 202.1L248.3 201.5L247.4 200.2L246.5 198.6L245.6 194.5L244.7 193.7L243.8 191.6L242.9 189.9L242.0 189.7L241.1 187.5L240.2 189.0L239.3 188.5L238.4 184.2L237.5 186.6L236.6 188.3L235.7 188.2L234.8 187.2L233.9 189.0L233.0 188.6L232.1 193.0L231.2 190.9L230.3 194.2L229.4 194.3L228.5 192.4L227.6 192.9L226.7 192.0L225.8 191.5L224.9 192.8L224.0 191.5L223.1 190.4L222.2 191.5L221.3 192.9L220.4 192.5L219.5 193.4L218.6 193.8L217.7 196.0L216.8 194.0L215.9 194.0L215.0 197.0L214.1 199.5L213.2 200.1L212.3 197.1L211.4 198.1L210.5 194.9L209.6 194.6L208.7 192.3L207.8 190.9L206.9 192.8L206.0 194.8L205.1 195.3L204.2 194.3L203.3 198.4L202.4 200.6L201.5 202.6L200.6 202.2L199.7 199.0L198.8 198.8L197.9 201.9L197.0 199.2L196.1 200.7L195.2 200.3L194.3 198.7L193.4 199.7L192.5 198.7L191.6 198.6L190.7 196.6L189.8 197.8L188.9 194.1L188.0 193.5L187.1 193.5L186.2 195.6L185.3 192.6L184.4 193.0L183.5 190.6L182.6 189.2L181.7 191.6L180.8 192.8L179.9 193.4L179.0 194.4L178.1 191.3L177.2 194.0L176.3 194.3L175.4 192.7L174.5 194.4L173.6 195.9L172.7 191.9L171.8 192.2L170.9 195.5L170.0 191.8L169.1 192.1L168.2 191.1L167.3 192.6L166.4 196.8L165.5 195.7L164.6 199.3L163.7 201.1L162.8 206.9L161.9 207.2L161.0 204.8L160.1 202.8L159.2 201.7L158.3 199.7L157.4 200.7L156.5 198.1L155.6 198.1L154.7 197.8L153.8 194.7L152.9 196.7L152.0 196.8L151.1 196.1L150.2 195.2L149.3 194.6L148.4 196.0L147.5 195.2L146.6 195.2L145.7 198.8L144.8 197.1L143.9 199.4L143.0 199.9L142.1 199.4L141.2 203.7L140.3 203.4L139.4 208.1L138.5 207.6L137.6 208.1L136.7 206.7L135.8 202.8L134.9 205.0L134.0 204.5L133.1 205.1L132.2 206.9L131.3 205.6L130.4 206.8L129.5 206.2L128.6 207.3L127.7 207.7L126.8 207.0L125.9 208.1L125.0 205.5L124.1 206.2L123.2 208.5L122.3 207.4L121.4 208.9L120.5 208.4L119.6 210.5L118.7 210.9L117.8 209.9L116.9 206.7L116.0 205.2L115.1 203.3L114.2 201.3L113.3 196.4L112.4 194.3L111.5 192.6L110.6 192.9L109.7 194.1L108.8 190.7L107.9 192.6L107.0 190.5L106.1 192.7L105.2 193.8L104.3 194.1L103.4 193.9L102.5 195.1Z" fill="#9fc4ef" stroke="#8fb8e8" stroke-width="0.25" stroke-linejoin="round"/></svg>
<div class="ttl" style="left:213px;width:200px;top:111.2px">POVPREČNA IN NAJVIŠJA HITROST</div>
<svg style="left:72.6px;top:190px;width:8px;height:16px" viewBox="0 0 8 16"><path d="M6.8 1.2L1.4 8L6.8 14.8" fill="none" stroke="#5e6164" stroke-width="1.7"/></svg>
<div class="foot"><span>Copyright Sipronika &copy; 2016</span></div>
</div>
<div class="fr" style="left:422px;top:214px;height:299px">
<div class="side"></div><div class="head"></div>
<svg style="left:5.8px;top:6px;width:9.4px;height:9.4px" viewBox="0 0 94 94"><path d="M36 3H91V58A33 33 0 0 1 58 91H3V36A33 33 0 0 1 36 3Z" fill="#e08e3c"/><circle cx="47" cy="48" r="29" fill="#fdecd4"/><circle cx="47" cy="48" r="30" fill="none" stroke="#c98646" stroke-width="3" stroke-opacity="0.7"/><path d="M40 40L50 50L58 46" stroke="#b8a896" stroke-width="5" fill="none" stroke-linecap="round"/></svg><div class="logo">Sipronika</div>
<div class="usr" style="top:25.80px;">Janez Novak</div>
<div class="usr" style="top:31.70px;">Občina: Ljubljana</div>
<div class="sec" style="top:45.8px;height:64px"></div>
<div class="bar" style="top:45.8px;height:64px;background:#e8872a"></div>
<svg style="left:7.1px;top:51.30px;width:4px;height:3.5px" viewBox="0 0 8 7" fill="#f2f4f8"><rect x="0.4" y="0.2" width="3.1" height="2.9"/><rect x="4.5" y="0.2" width="3.1" height="2.9"/><rect x="0.4" y="3.9" width="3.1" height="2.9"/><rect x="4.5" y="3.9" width="3.1" height="2.9"/></svg>
<div class="mi w" style="top:50.90px;">Seznam MMP</div>
<svg class="car" style="top:50.6px" viewBox="0 0 4 4"><path d="M0.7 1.3L2 2.6L3.3 1.3" fill="none" stroke="#e8ecf2" stroke-width="0.6"/></svg>
<div class="si" style="left:16.60px;top:63.00px;">MMP Celovška c.</div>
<div class="si" style="left:16.60px;top:72.60px;">MMP Dunajska c.</div>
<div class="si" style="left:16.60px;top:82.10px;">MMP Tivolska c.</div>
<div class="si w" style="left:16.60px;top:91.70px;">MMP Tržaška c.</div>
<div class="si" style="left:16.60px;top:101.30px;">MMP Dolenjska c.</div>
<div class="sec" style="top:109.8px;height:14.4px;background:#324759"></div>
<svg style="left:7.1px;top:116.40px;width:4px;height:3.5px" viewBox="0 0 8 7" fill="#b7c0ce"><rect x="2.6" y="0.3" width="2.8" height="2.6" rx="0.6"/><path d="M4 2.8V5" stroke="#b7c0ce" stroke-width="0.9"/><path d="M0.8 5.9H7.2" stroke="#b7c0ce" stroke-width="1.5"/></svg>
<div class="mi" style="top:116.00px;">Upravljalnik</div>
<div class="sec" style="top:124.2px;height:56.8px"></div>
<div class="bar" style="top:124.2px;height:56.8px;background:#19aa8d"></div>
<svg style="left:7.1px;top:129.80px;width:4px;height:3.5px" viewBox="0 0 8 7" fill="#f2f4f8"><path d="M0.6 0.4V6.4H7.6" fill="none" stroke="#f2f4f8" stroke-width="0.9"/><path d="M1.6 5.6L3 3L4.4 4L6.6 1.4V5.6Z"/></svg>
<div class="mi w" style="top:129.40px;">Grafični podatki</div>
<svg class="car" style="top:128.8px" viewBox="0 0 4 4"><path d="M0.7 1.3L2 2.6L3.3 1.3" fill="none" stroke="#e8ecf2" stroke-width="0.6"/></svg>
<div class="si" style="left:16.60px;top:139.20px;line-height:4.4px;">Povprečna in najvišja<br>hitrost</div>
<div class="si" style="left:16.60px;top:152.80px;line-height:4.4px;">Hitrostni razred</div>
<div class="si w" style="left:16.60px;top:162.30px;line-height:4.4px;">Histogram</div>
<div class="si" style="left:16.60px;top:171.80px;line-height:4.4px;">Število prevozov</div>
<svg style="left:7.1px;top:189.10px;width:4px;height:3.5px" viewBox="0 0 8 7" fill="#b7c0ce"><rect x="0.5" y="0.9" width="7" height="5.4" fill="none" stroke="#b7c0ce" stroke-width="0.9"/><path d="M1.3 5.6L3 3.4L4.2 4.5L5.5 2.4L6.8 5.6Z"/></svg>
<div class="mi" style="top:188.80px;">Sprožilci slik</div>
<svg style="left:7.1px;top:202.60px;width:4px;height:3.5px" viewBox="0 0 8 7" fill="#b7c0ce"><path d="M4.6 1.6H0.7V6.4H5.4V3.8" fill="none" stroke="#b7c0ce" stroke-width="0.9"/><path d="M3 4.4L7.2 0.6" stroke="#b7c0ce" stroke-width="1.3"/></svg>
<div class="mi" style="top:202.30px;">Oblikovanje slik</div>
<svg style="left:7.1px;top:216.60px;width:4px;height:3.5px" viewBox="0 0 8 7" fill="#b7c0ce"><rect x="0.4" y="0.8" width="7.2" height="2"/><rect x="0.9" y="3.4" width="6.2" height="3"/></svg>
<div class="mi" style="top:216.30px;">Arhiv</div>
<svg style="left:7.1px;top:230.30px;width:4px;height:3.5px" viewBox="0 0 8 7" fill="#b7c0ce"><circle cx="4" cy="3.5" r="3.1"/><path d="M1.2 4.3Q4 6 6.8 4.3" fill="none" stroke="#2f4050" stroke-width="0.8"/></svg>
<div class="mi" style="top:230.00px;">Zemljevid</div>
<svg style="left:7.1px;top:242.60px;width:4px;height:3.5px" viewBox="0 0 8 7" fill="#b7c0ce"><rect x="0.6" y="0.5" width="4.2" height="4.2" fill="none" stroke="#b7c0ce" stroke-width="0.9"/><rect x="2.9" y="2.4" width="4.4" height="4.1" fill="#2f4050" stroke="#b7c0ce" stroke-width="0.9"/></svg>
<div class="mi" style="top:242.30px;">Upravljanje parametrov</div>
<div class="top"></div>
<div class="btn"><i style="top:2.9px"></i><i style="top:4.05px"></i><i style="top:5.2px"></i></div>
<div class="tr" style="left:441.40px;top:6.50px;">Dobrodošli v nadzornem sistemu MMP</div>
<div style="left:511.6px;top:6.4px;width:3.2px;height:4px;background:#7e8183;border-radius:1.2px 1.2px 0.3px 0.3px"></div>
<div style="left:513.6px;top:3.4px;width:4.6px;height:4.4px;background:#1ab394;border-radius:0.6px"></div>
<div style="left:524px;top:7.3px;width:2.8px;height:2.6px;background:#8d9092;border-radius:0.3px"></div>
<div class="tr" style="left:528.80px;top:7.00px;color:#74777a;font-weight:bold;font-size:3.7px;">Odjava</div>
<div style="left:552.4px;top:7.2px;width:4.2px;height:3px;background:#8d9092;border-radius:0.3px"></div>
<div class="card" style="left:75.20px;width:112.60px"><div class="t">Povprečna hitrost</div><div class="ln"></div><div class="n">31,55</div><div class="u " style="">km/h</div><div class="p cb" style="right:6.2px">38% &#8599;</div><div class="lb blue" style="left:89.80px;">Mesečno</div></div>
<div class="card" style="left:197.80px;width:113.40px"><div class="t">Najvišja hitrost</div><div class="ln"></div><div class="n">31,55</div><div class="u " style="">km/h</div><div class="p cc" style="right:6.2px">10% &#8599;</div><div class="lb cy" style="left:90.60px;">Mesečno</div></div>
<div class="card" style="left:321.60px;width:235.40px"><div class="t">Prekoračitev omejitve hitrosti</div><div class="ln"></div><div class="n">3508</div><div class="u cg" style="font-weight:bold;">10% &#8599; Povečanje glede na mesec</div><div class="lb gr" style="left:216.60px;width:14.5px;font-size:2.3px;line-height:5.2px;">Mesečno</div></div>
<div class="card" style="left:438px;width:100px;background:none;border:none"><div class="t" style="left:5.6px;top:4px">Pod omejitvijo hitrosti</div><div class="n" style="left:6.4px;top:20px">2585</div><div class="u cg" style="left:6.6px;top:32.3px;font-weight:bold">10% &#8599; Povečanje glede na mesec</div></div>
<div class="panel"><div class="tb" style="top:6.3px;left:4.5px;width:7.4px"><svg style="left:2.5px;top:2px;width:2.4px;height:3px" viewBox="0 0 2.4 3"><path d="M1.8 0.3L0.6 1.5L1.8 2.7" fill="none" stroke="#444" stroke-width="0.6"/></svg></div><div class="tb" style="top:6.3px;left:16px;width:7.4px"><svg style="left:2.5px;top:2px;width:2.4px;height:3px" viewBox="0 0 2.4 3"><path d="M0.6 0.3L1.8 1.5L0.6 2.7" fill="none" stroke="#444" stroke-width="0.6"/></svg></div><div class="tb" style="top:6.3px;left:29.4px;width:14px">Danes</div><div style="left:46.9px;top:7.4px;font-size:4.1px;color:#444;border-bottom:0.25px solid #aaa;line-height:4.9px">8.1.2016</div>
<div class="tb" style="left:420.9px;width:15px">Mesec</div>
<div class="tb" style="left:436.8px;width:13.8px">Teden</div>
<div class="tb" style="left:451.2px;width:12.1px;background:#1ab394;border-color:#1ab394;color:#fff;font-weight:bold">Dan</div>
</div>
<svg style="left:0;top:0;width:568px;height:299px" viewBox="0 0 568 299"><path d="M98 131.40H532" stroke="#dddfe1" stroke-width="0.35"/><text x="96.00" y="132.40" font-size="3.00" text-anchor="end" fill="#111" font-family="Liberation Sans, sans-serif" >40</text><path d="M98 157.80H532" stroke="#dddfe1" stroke-width="0.35"/><text x="96.00" y="158.80" font-size="3.00" text-anchor="end" fill="#111" font-family="Liberation Sans, sans-serif" >30</text><path d="M98 183.70H532" stroke="#dddfe1" stroke-width="0.35"/><text x="96.00" y="184.70" font-size="3.00" text-anchor="end" fill="#111" font-family="Liberation Sans, sans-serif" >20</text><path d="M98 209.50H532" stroke="#dddfe1" stroke-width="0.35"/><text x="96.00" y="210.50" font-size="3.00" text-anchor="end" fill="#111" font-family="Liberation Sans, sans-serif" >10</text><path d="M98 235.00H532" stroke="#c8cbcd" stroke-width="0.35"/><text x="96.00" y="236.00" font-size="3.00" text-anchor="end" fill="#111" font-family="Liberation Sans, sans-serif" >0</text><text x="99.50" y="242.80" font-size="3.00" text-anchor="middle" fill="#111" font-family="Liberation Sans, sans-serif" >0</text><path d="M99.50 235V236.2" stroke="#cfd2d4" stroke-width="0.3"/><text x="126.60" y="242.80" font-size="3.00" text-anchor="middle" fill="#111" font-family="Liberation Sans, sans-serif" >10</text><path d="M126.60 235V236.2" stroke="#cfd2d4" stroke-width="0.3"/><text x="153.70" y="242.80" font-size="3.00" text-anchor="middle" fill="#111" font-family="Liberation Sans, sans-serif" >20</text><path d="M153.70 235V236.2" stroke="#cfd2d4" stroke-width="0.3"/><text x="180.80" y="242.80" font-size="3.00" text-anchor="middle" fill="#111" font-family="Liberation Sans, sans-serif" >30</text><path d="M180.80 235V236.2" stroke="#cfd2d4" stroke-width="0.3"/><text x="207.90" y="242.80" font-size="3.00" text-anchor="middle" fill="#111" font-family="Liberation Sans, sans-serif" >40</text><path d="M207.90 235V236.2" stroke="#cfd2d4" stroke-width="0.3"/><text x="235.00" y="242.80" font-size="3.00" text-anchor="middle" fill="#111" font-family="Liberation Sans, sans-serif" >50</text><path d="M235.00 235V236.2" stroke="#cfd2d4" stroke-width="0.3"/><text x="262.10" y="242.80" font-size="3.00" text-anchor="middle" fill="#111" font-family="Liberation Sans, sans-serif" >60</text><path d="M262.10 235V236.2" stroke="#cfd2d4" stroke-width="0.3"/><text x="289.20" y="242.80" font-size="3.00" text-anchor="middle" fill="#111" font-family="Liberation Sans, sans-serif" >70</text><path d="M289.20 235V236.2" stroke="#cfd2d4" stroke-width="0.3"/><text x="316.30" y="242.80" font-size="3.00" text-anchor="middle" fill="#111" font-family="Liberation Sans, sans-serif" >80</text><path d="M316.30 235V236.2" stroke="#cfd2d4" stroke-width="0.3"/><text x="343.40" y="242.80" font-size="3.00" text-anchor="middle" fill="#111" font-family="Liberation Sans, sans-serif" >90</text><path d="M343.40 235V236.2" stroke="#cfd2d4" stroke-width="0.3"/><text x="370.50" y="242.80" font-size="3.00" text-anchor="middle" fill="#111" font-family="Liberation Sans, sans-serif" >100</text><path d="M370.50 235V236.2" stroke="#cfd2d4" stroke-width="0.3"/><text x="397.60" y="242.80" font-size="3.00" text-anchor="middle" fill="#111" font-family="Liberation Sans, sans-serif" >110</text><path d="M397.60 235V236.2" stroke="#cfd2d4" stroke-width="0.3"/><text x="424.70" y="242.80" font-size="3.00" text-anchor="middle" fill="#111" font-family="Liberation Sans, sans-serif" >120</text><path d="M424.70 235V236.2" stroke="#cfd2d4" stroke-width="0.3"/><text x="451.80" y="242.80" font-size="3.00" text-anchor="middle" fill="#111" font-family="Liberation Sans, sans-serif" >130</text><path d="M451.80 235V236.2" stroke="#cfd2d4" stroke-width="0.3"/><text x="478.90" y="242.80" font-size="3.00" text-anchor="middle" fill="#111" font-family="Liberation Sans, sans-serif" >140</text><path d="M478.90 235V236.2" stroke="#cfd2d4" stroke-width="0.3"/><text x="506.00" y="242.80" font-size="3.00" text-anchor="middle" fill="#111" font-family="Liberation Sans, sans-serif" >150</text><path d="M506.00 235V236.2" stroke="#cfd2d4" stroke-width="0.3"/><text x="87.80" y="144.50" font-size="3.40" text-anchor="middle" fill="#222" font-family="Liberation Sans, sans-serif" transform="rotate(-90 87.8 144.5)">Število prevozov</text><text x="531.40" y="253.00" font-size="3.40" text-anchor="end" fill="#222" font-family="Liberation Sans, sans-serif" >Hitrost v km/h</text><path d="M146.93 235.02C148.28 234.60 150.99 233.82 153.70 232.92C156.41 232.02 157.76 232.14 160.47 230.52C163.19 228.89 164.54 227.69 167.25 224.81C169.96 221.93 171.31 219.05 174.03 216.10C176.74 213.16 178.09 210.82 180.80 210.10C183.51 209.38 184.86 213.40 187.57 212.50C190.28 211.60 191.64 207.33 194.35 205.59C197.06 203.85 198.41 206.13 201.12 203.79C203.84 201.45 205.19 200.85 207.90 193.88C210.61 186.91 211.97 175.14 214.68 168.95C217.39 162.77 218.74 164.93 221.45 162.95C224.16 160.97 225.51 162.35 228.22 159.05C230.94 155.74 232.29 146.73 235.00 146.43C237.71 146.13 239.06 155.20 241.78 157.54C244.49 159.89 245.84 158.26 248.55 158.14C251.26 158.02 252.61 154.72 255.32 156.94C258.03 159.17 259.39 166.43 262.10 169.26C264.81 172.08 266.17 169.86 268.88 171.06C271.58 172.26 272.94 172.68 275.65 175.26C278.36 177.84 279.72 182.77 282.43 183.97C285.13 185.17 286.49 181.75 289.20 181.27C291.91 180.79 293.27 181.15 295.98 181.57C298.69 181.99 300.04 181.21 302.75 183.37C305.46 185.53 306.81 189.26 309.52 192.38C312.23 195.50 313.59 196.70 316.30 198.98C319.01 201.27 320.37 201.57 323.07 203.79C325.78 206.01 327.14 209.74 329.85 210.10C332.56 210.46 333.92 202.77 336.62 205.59C339.33 208.41 340.69 219.71 343.40 224.21C346.11 228.71 347.46 226.85 350.17 228.11C352.88 229.38 354.24 229.50 356.95 230.52C359.66 231.54 361.02 232.80 363.73 233.22C366.44 233.64 367.79 232.26 370.50 232.62C373.21 232.98 374.56 234.54 377.27 235.02C379.98 235.00 382.69 235.00 384.05 235.02" fill="none" stroke="#4b4c6c" stroke-width="0.62"/><circle cx="146.93" cy="235.02" r="0.85" fill="#4b4c6c"/><circle cx="153.70" cy="232.92" r="0.85" fill="#4b4c6c"/><circle cx="160.47" cy="230.52" r="0.85" fill="#4b4c6c"/><circle cx="167.25" cy="224.81" r="0.85" fill="#4b4c6c"/><circle cx="174.03" cy="216.10" r="0.85" fill="#4b4c6c"/><circle cx="180.80" cy="210.10" r="0.85" fill="#4b4c6c"/><circle cx="187.57" cy="212.50" r="0.85" fill="#4b4c6c"/><circle cx="194.35" cy="205.59" r="0.85" fill="#4b4c6c"/><circle cx="201.12" cy="203.79" r="0.85" fill="#4b4c6c"/><circle cx="207.90" cy="193.88" r="0.85" fill="#4b4c6c"/><circle cx="214.68" cy="168.95" r="0.85" fill="#4b4c6c"/><circle cx="221.45" cy="162.95" r="0.85" fill="#4b4c6c"/><circle cx="228.22" cy="159.05" r="0.85" fill="#4b4c6c"/><circle cx="235.00" cy="146.43" r="0.85" fill="#4b4c6c"/><circle cx="241.78" cy="157.54" r="0.85" fill="#4b4c6c"/><circle cx="248.55" cy="158.14" r="0.85" fill="#4b4c6c"/><circle cx="255.32" cy="156.94" r="0.85" fill="#4b4c6c"/><circle cx="262.10" cy="169.26" r="0.85" fill="#4b4c6c"/><circle cx="268.88" cy="171.06" r="0.85" fill="#4b4c6c"/><circle cx="275.65" cy="175.26" r="0.85" fill="#4b4c6c"/><circle cx="282.43" cy="183.97" r="0.85" fill="#4b4c6c"/><circle cx="289.20" cy="181.27" r="0.85" fill="#4b4c6c"/><circle cx="295.98" cy="181.57" r="0.85" fill="#4b4c6c"/><circle cx="302.75" cy="183.37" r="0.85" fill="#4b4c6c"/><circle cx="309.52" cy="192.38" r="0.85" fill="#4b4c6c"/><circle cx="316.30" cy="198.98" r="0.85" fill="#4b4c6c"/><circle cx="323.07" cy="203.79" r="0.85" fill="#4b4c6c"/><circle cx="329.85" cy="210.10" r="0.85" fill="#4b4c6c"/><circle cx="336.62" cy="205.59" r="0.85" fill="#4b4c6c"/><circle cx="343.40" cy="224.21" r="0.85" fill="#4b4c6c"/><circle cx="350.17" cy="228.11" r="0.85" fill="#4b4c6c"/><circle cx="356.95" cy="230.52" r="0.85" fill="#4b4c6c"/><circle cx="363.73" cy="233.22" r="0.85" fill="#4b4c6c"/><circle cx="370.50" cy="232.62" r="0.85" fill="#4b4c6c"/><circle cx="377.27" cy="235.02" r="0.85" fill="#4b4c6c"/><circle cx="384.05" cy="235.02" r="0.85" fill="#4b4c6c"/></svg>
<div class="ttl" style="left:266.4px;width:100px;top:111.8px">HISTOGRAM</div>
<svg style="left:72.6px;top:190px;width:8px;height:16px" viewBox="0 0 8 16"><path d="M6.8 1.2L1.4 8L6.8 14.8" fill="none" stroke="#5e6164" stroke-width="1.7"/></svg>
<svg style="left:549.4px;top:190px;width:8px;height:16px" viewBox="0 0 8 16"><path d="M1.2 1.2L6.6 8L1.2 14.8" fill="none" stroke="#5e6164" stroke-width="1.7"/></svg>
<div class="foot"><span>Copyright Sipronika &copy; 2016</span></div>
</div>
</body></html>
